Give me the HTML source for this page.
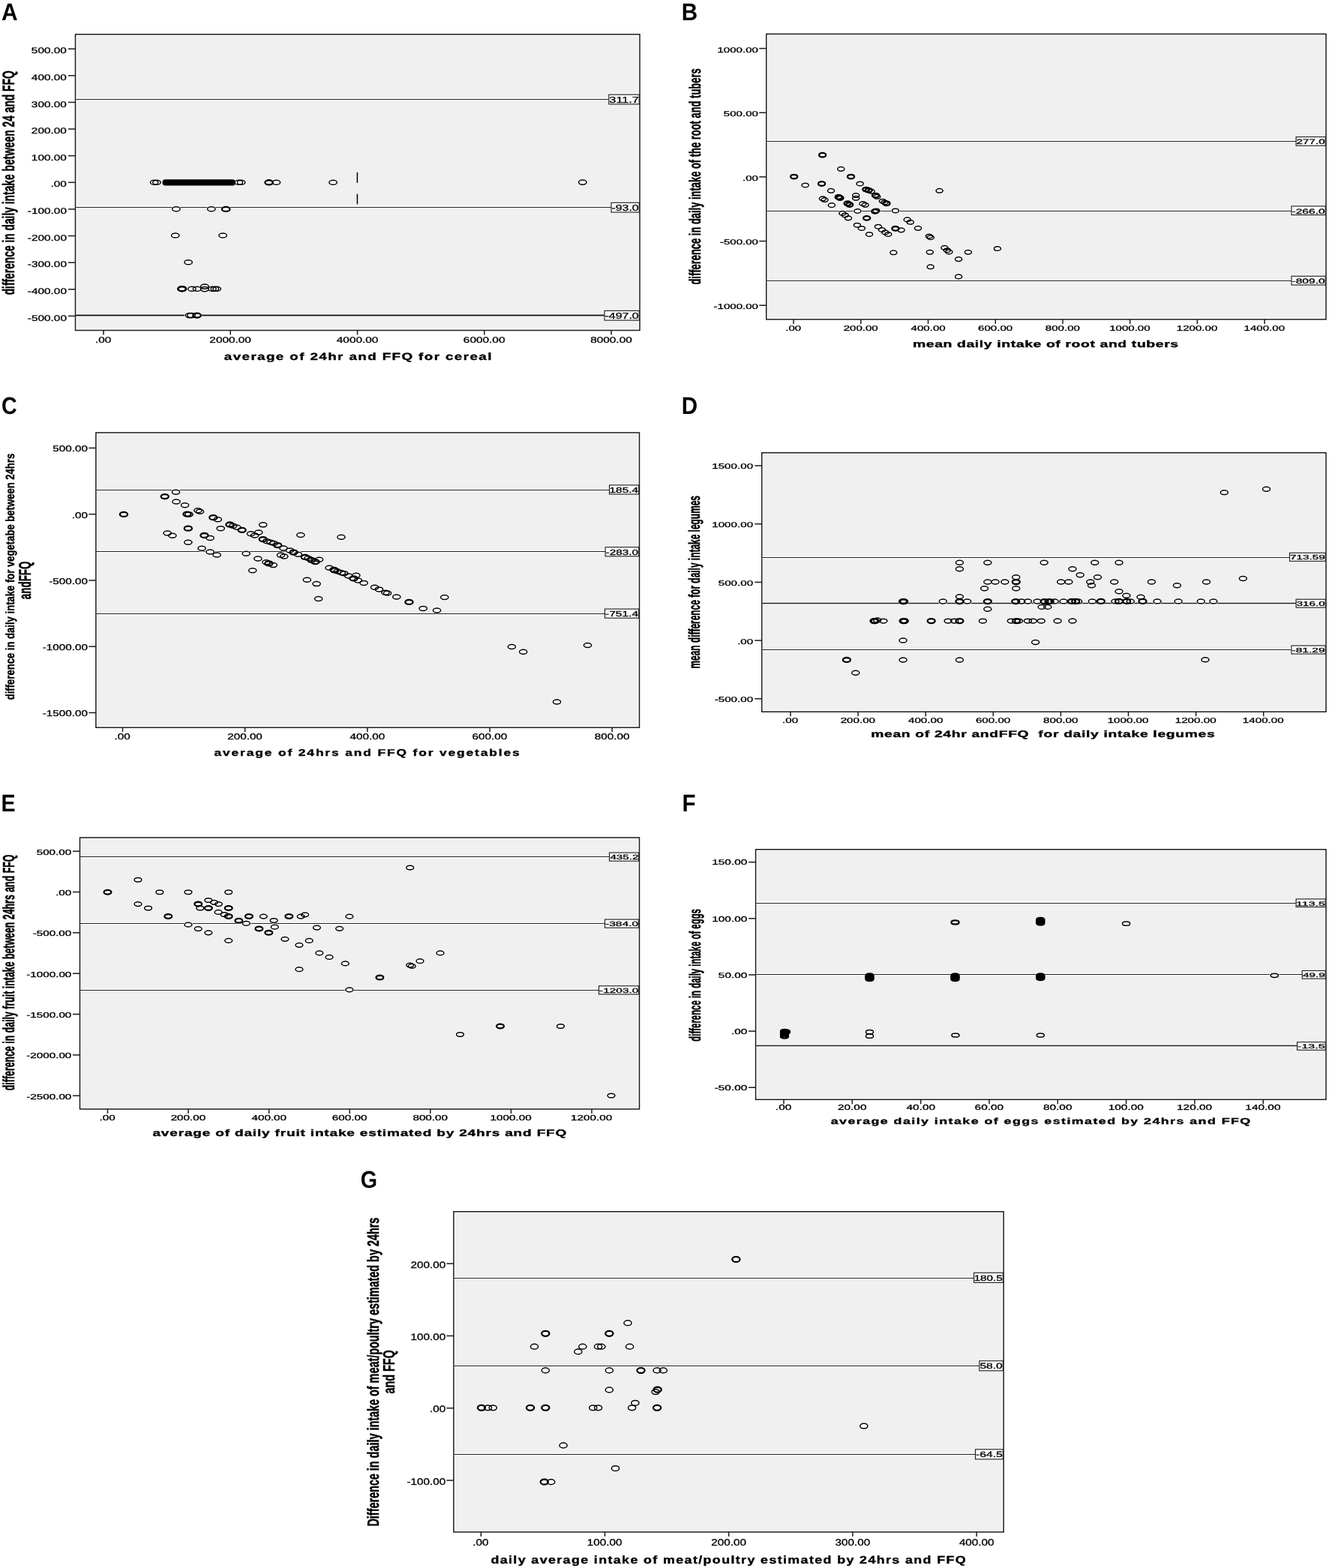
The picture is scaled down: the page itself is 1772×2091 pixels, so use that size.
<!DOCTYPE html>
<html><head><meta charset="utf-8"><style>
html,body{margin:0;padding:0;background:#fff;}
svg{display:block;}
</style></head><body>
<svg width="1772" height="2091" viewBox="0 0 1772 2091" text-rendering="geometricPrecision">
<rect width="1772" height="2091" fill="#fff"/>
<rect x="100.5" y="45.8" width="752.5" height="394.7" fill="#ffffff" stroke="none" stroke-width="0"/>
<rect x="102.6" y="47.9" width="748.3" height="390.5" fill="#f0f0f0" stroke="none" stroke-width="0"/>
<rect x="100.5" y="45.8" width="752.5" height="394.7" fill="none" stroke="#1a1a1a" stroke-width="1.5"/>
<line x1="91" y1="65.2" x2="100.5" y2="65.2" stroke="#1a1a1a" stroke-width="1.5"/>
<text transform="translate(41.85 71.3) scale(1.39 1)" font-family='"Liberation Sans", Arial, sans-serif' font-weight="normal" font-size="11.07" stroke="#000" stroke-width="0.3">500.00</text>
<line x1="91" y1="100.82" x2="100.5" y2="100.82" stroke="#1a1a1a" stroke-width="1.5"/>
<text transform="translate(41.85 106.92) scale(1.39 1)" font-family='"Liberation Sans", Arial, sans-serif' font-weight="normal" font-size="11.07" stroke="#000" stroke-width="0.3">400.00</text>
<line x1="91" y1="136.44" x2="100.5" y2="136.44" stroke="#1a1a1a" stroke-width="1.5"/>
<text transform="translate(41.85 142.54) scale(1.39 1)" font-family='"Liberation Sans", Arial, sans-serif' font-weight="normal" font-size="11.07" stroke="#000" stroke-width="0.3">300.00</text>
<line x1="91" y1="172.06" x2="100.5" y2="172.06" stroke="#1a1a1a" stroke-width="1.5"/>
<text transform="translate(41.85 178.16) scale(1.39 1)" font-family='"Liberation Sans", Arial, sans-serif' font-weight="normal" font-size="11.07" stroke="#000" stroke-width="0.3">200.00</text>
<line x1="91" y1="207.68" x2="100.5" y2="207.68" stroke="#1a1a1a" stroke-width="1.5"/>
<text transform="translate(41.85 213.78) scale(1.39 1)" font-family='"Liberation Sans", Arial, sans-serif' font-weight="normal" font-size="11.07" stroke="#000" stroke-width="0.3">100.00</text>
<line x1="91" y1="243.3" x2="100.5" y2="243.3" stroke="#1a1a1a" stroke-width="1.5"/>
<text transform="translate(67.55 249.4) scale(1.39 1)" font-family='"Liberation Sans", Arial, sans-serif' font-weight="normal" font-size="11.07" stroke="#000" stroke-width="0.3">.00</text>
<line x1="91" y1="278.92" x2="100.5" y2="278.92" stroke="#1a1a1a" stroke-width="1.5"/>
<text transform="translate(36.78 285.02) scale(1.39 1)" font-family='"Liberation Sans", Arial, sans-serif' font-weight="normal" font-size="11.07" stroke="#000" stroke-width="0.3">-100.00</text>
<line x1="91" y1="314.54" x2="100.5" y2="314.54" stroke="#1a1a1a" stroke-width="1.5"/>
<text transform="translate(36.78 320.64) scale(1.39 1)" font-family='"Liberation Sans", Arial, sans-serif' font-weight="normal" font-size="11.07" stroke="#000" stroke-width="0.3">-200.00</text>
<line x1="91" y1="350.16" x2="100.5" y2="350.16" stroke="#1a1a1a" stroke-width="1.5"/>
<text transform="translate(36.78 356.26) scale(1.39 1)" font-family='"Liberation Sans", Arial, sans-serif' font-weight="normal" font-size="11.07" stroke="#000" stroke-width="0.3">-300.00</text>
<line x1="91" y1="385.78" x2="100.5" y2="385.78" stroke="#1a1a1a" stroke-width="1.5"/>
<text transform="translate(36.78 391.88) scale(1.39 1)" font-family='"Liberation Sans", Arial, sans-serif' font-weight="normal" font-size="11.07" stroke="#000" stroke-width="0.3">-400.00</text>
<line x1="91" y1="421.4" x2="100.5" y2="421.4" stroke="#1a1a1a" stroke-width="1.5"/>
<text transform="translate(36.78 427.5) scale(1.39 1)" font-family='"Liberation Sans", Arial, sans-serif' font-weight="normal" font-size="11.07" stroke="#000" stroke-width="0.3">-500.00</text>
<line x1="138" y1="440.5" x2="138" y2="446.5" stroke="#1a1a1a" stroke-width="1.5"/>
<text transform="translate(126.88 457.3) scale(1.39 1)" font-family='"Liberation Sans", Arial, sans-serif' font-weight="normal" font-size="11.07" stroke="#000" stroke-width="0.3">.00</text>
<line x1="307.26" y1="440.5" x2="307.26" y2="446.5" stroke="#1a1a1a" stroke-width="1.5"/>
<text transform="translate(279.33 457.3) scale(1.39 1)" font-family='"Liberation Sans", Arial, sans-serif' font-weight="normal" font-size="11.07" stroke="#000" stroke-width="0.3">2000.00</text>
<line x1="476.52" y1="440.5" x2="476.52" y2="446.5" stroke="#1a1a1a" stroke-width="1.5"/>
<text transform="translate(448.82 457.3) scale(1.39 1)" font-family='"Liberation Sans", Arial, sans-serif' font-weight="normal" font-size="11.07" stroke="#000" stroke-width="0.3">4000.00</text>
<line x1="645.78" y1="440.5" x2="645.78" y2="446.5" stroke="#1a1a1a" stroke-width="1.5"/>
<text transform="translate(617.85 457.3) scale(1.39 1)" font-family='"Liberation Sans", Arial, sans-serif' font-weight="normal" font-size="11.07" stroke="#000" stroke-width="0.3">6000.00</text>
<line x1="815.04" y1="440.5" x2="815.04" y2="446.5" stroke="#1a1a1a" stroke-width="1.5"/>
<text transform="translate(787.15 457.3) scale(1.39 1)" font-family='"Liberation Sans", Arial, sans-serif' font-weight="normal" font-size="11.07" stroke="#000" stroke-width="0.3">8000.00</text>
<line x1="101.3" y1="132.5" x2="852.2" y2="132.5" stroke="#ffffff" stroke-width="3.4"/>
<line x1="100.5" y1="132.5" x2="853" y2="132.5" stroke="#1e1e1e" stroke-width="1.2"/>
<line x1="101.3" y1="276.5" x2="852.2" y2="276.5" stroke="#ffffff" stroke-width="3.4"/>
<line x1="100.5" y1="276.5" x2="853" y2="276.5" stroke="#1e1e1e" stroke-width="1.2"/>
<line x1="101.3" y1="420.4" x2="852.2" y2="420.4" stroke="#ffffff" stroke-width="4.2"/>
<line x1="100.5" y1="420.4" x2="853" y2="420.4" stroke="#1e1e1e" stroke-width="2"/>
<g fill="#fff" stroke="none">
<ellipse cx="205.7" cy="243.3" rx="6.65" ry="4.45"/>
<ellipse cx="209" cy="243.3" rx="6.65" ry="4.45"/>
<ellipse cx="318.3" cy="243.3" rx="6.65" ry="4.45"/>
<ellipse cx="321.6" cy="243.3" rx="6.65" ry="4.45"/>
<ellipse cx="358.6" cy="243.3" rx="6.65" ry="4.45"/>
<ellipse cx="368.4" cy="243.3" rx="6.65" ry="4.45"/>
<ellipse cx="444.1" cy="243.3" rx="6.65" ry="4.45"/>
<ellipse cx="776.8" cy="243.1" rx="6.65" ry="4.45"/>
<ellipse cx="234.9" cy="278.8" rx="6.65" ry="4.45"/>
<ellipse cx="281.8" cy="278.8" rx="6.65" ry="4.45"/>
<ellipse cx="301.2" cy="278.9" rx="6.65" ry="4.45"/>
<ellipse cx="233.8" cy="314" rx="6.65" ry="4.45"/>
<ellipse cx="297.1" cy="314" rx="6.65" ry="4.45"/>
<ellipse cx="251.1" cy="349.7" rx="6.65" ry="4.45"/>
<ellipse cx="242.4" cy="385.2" rx="6.65" ry="4.45"/>
<ellipse cx="243" cy="385.2" rx="6.65" ry="4.45"/>
<ellipse cx="255.9" cy="385.2" rx="6.65" ry="4.45"/>
<ellipse cx="262.6" cy="385.2" rx="6.65" ry="4.45"/>
<ellipse cx="272.9" cy="382.1" rx="6.65" ry="4.45"/>
<ellipse cx="272.9" cy="385.6" rx="6.65" ry="4.45"/>
<ellipse cx="282.9" cy="385.2" rx="6.65" ry="4.45"/>
<ellipse cx="286.4" cy="385.2" rx="6.65" ry="4.45"/>
<ellipse cx="289.2" cy="385.2" rx="6.65" ry="4.45"/>
<ellipse cx="252.7" cy="420.6" rx="6.65" ry="4.45"/>
<ellipse cx="255.1" cy="420.6" rx="6.65" ry="4.45"/>
<ellipse cx="262.6" cy="420.6" rx="6.65" ry="4.45"/>
</g>
<ellipse cx="205.7" cy="243.3" rx="5.25" ry="3.05" fill="none" stroke="#000" stroke-width="1.5"/>
<ellipse cx="209" cy="243.3" rx="5.25" ry="3.05" fill="none" stroke="#000" stroke-width="1.5"/>
<ellipse cx="318.3" cy="243.3" rx="5.25" ry="3.05" fill="none" stroke="#000" stroke-width="1.5"/>
<ellipse cx="321.6" cy="243.3" rx="5.25" ry="3.05" fill="none" stroke="#000" stroke-width="1.5"/>
<ellipse cx="358.6" cy="243.3" rx="5.25" ry="3.05" fill="none" stroke="#000" stroke-width="2.3"/>
<ellipse cx="368.4" cy="243.3" rx="5.25" ry="3.05" fill="none" stroke="#000" stroke-width="1.5"/>
<ellipse cx="444.1" cy="243.3" rx="5.25" ry="3.05" fill="none" stroke="#000" stroke-width="1.5"/>
<ellipse cx="776.8" cy="243.1" rx="5.25" ry="3.05" fill="none" stroke="#000" stroke-width="1.5"/>
<ellipse cx="234.9" cy="278.8" rx="5.25" ry="3.05" fill="none" stroke="#000" stroke-width="1.5"/>
<ellipse cx="281.8" cy="278.8" rx="5.25" ry="3.05" fill="none" stroke="#000" stroke-width="1.5"/>
<ellipse cx="301.2" cy="278.9" rx="5.25" ry="3.05" fill="none" stroke="#000" stroke-width="2.3"/>
<ellipse cx="233.8" cy="314" rx="5.25" ry="3.05" fill="none" stroke="#000" stroke-width="1.5"/>
<ellipse cx="297.1" cy="314" rx="5.25" ry="3.05" fill="none" stroke="#000" stroke-width="1.5"/>
<ellipse cx="251.1" cy="349.7" rx="5.25" ry="3.05" fill="none" stroke="#000" stroke-width="1.5"/>
<ellipse cx="242.4" cy="385.2" rx="5.25" ry="3.05" fill="none" stroke="#000" stroke-width="2.3"/>
<ellipse cx="243" cy="385.2" rx="5.25" ry="3.05" fill="none" stroke="#000" stroke-width="2.3"/>
<ellipse cx="255.9" cy="385.2" rx="5.25" ry="3.05" fill="none" stroke="#000" stroke-width="1.5"/>
<ellipse cx="262.6" cy="385.2" rx="5.25" ry="3.05" fill="none" stroke="#000" stroke-width="1.5"/>
<ellipse cx="272.9" cy="382.1" rx="5.25" ry="3.05" fill="none" stroke="#000" stroke-width="1.5"/>
<ellipse cx="272.9" cy="385.6" rx="5.25" ry="3.05" fill="none" stroke="#000" stroke-width="1.5"/>
<ellipse cx="282.9" cy="385.2" rx="5.25" ry="3.05" fill="none" stroke="#000" stroke-width="1.5"/>
<ellipse cx="286.4" cy="385.2" rx="5.25" ry="3.05" fill="none" stroke="#000" stroke-width="1.5"/>
<ellipse cx="289.2" cy="385.2" rx="5.25" ry="3.05" fill="none" stroke="#000" stroke-width="1.5"/>
<ellipse cx="252.7" cy="420.6" rx="5.25" ry="3.05" fill="none" stroke="#000" stroke-width="1.5"/>
<ellipse cx="255.1" cy="420.6" rx="5.25" ry="3.05" fill="none" stroke="#000" stroke-width="1.5"/>
<ellipse cx="262.6" cy="420.6" rx="5.25" ry="3.05" fill="none" stroke="#000" stroke-width="2.3"/>
<rect x="216.5" y="239.2" width="97.5" height="8.2" rx="4" ry="4" fill="#000"/>
<line x1="476.4" y1="229.9" x2="476.4" y2="243.8" stroke="#000" stroke-width="1.5"/>
<line x1="476.4" y1="258.6" x2="476.4" y2="272.3" stroke="#000" stroke-width="1.5"/>
<rect x="811.8" y="126.2" width="40.4" height="12.7" fill="#fff" stroke="#1a1a1a" stroke-width="1.1"/>
<text transform="translate(812.35 136.8) scale(1.41 1)" font-family='"Liberation Sans", Arial, sans-serif' font-weight="normal" font-size="11.57" stroke="#000" stroke-width="0.3">311.7</text>
<rect x="815" y="270.3" width="37.2" height="12.7" fill="#fff" stroke="#1a1a1a" stroke-width="1.1"/>
<text transform="translate(815.49 280.9) scale(1.37 1)" font-family='"Liberation Sans", Arial, sans-serif' font-weight="normal" font-size="11.57" stroke="#000" stroke-width="0.3">-93.0</text>
<rect x="806" y="414.4" width="46.2" height="12.7" fill="#fff" stroke="#1a1a1a" stroke-width="1.1"/>
<text transform="translate(806.48 425) scale(1.38 1)" font-family='"Liberation Sans", Arial, sans-serif' font-weight="normal" font-size="11.57" stroke="#000" stroke-width="0.3">-497.0</text>
<text transform="translate(19.3 393.35) scale(1.62 1) rotate(-90)" font-family='"Liberation Sans", Arial, sans-serif' font-weight="bold" font-size="13.81" stroke="#000" stroke-width="0.3">difference in daily intake between 24 and FFQ</text>
<text transform="translate(298.84 479.9) scale(1.39 1)" font-family='"Liberation Sans", Arial, sans-serif' font-weight="bold" font-size="13.5" letter-spacing="1.02" stroke="#000" stroke-width="0.35">average of 24hr and FFQ for cereal</text>
<text transform="translate(1.95 26.6) scale(0.93 1)" font-family='"Liberation Sans", Arial, sans-serif' font-weight="bold" font-size="32.2">A</text>
<rect x="1021.8" y="45.4" width="746.2" height="380.5" fill="#ffffff" stroke="none" stroke-width="0"/>
<rect x="1023.9" y="47.5" width="742" height="376.3" fill="#f0f0f0" stroke="none" stroke-width="0"/>
<rect x="1021.8" y="45.4" width="746.2" height="380.5" fill="none" stroke="#1a1a1a" stroke-width="1.5"/>
<line x1="1012.3" y1="64.6" x2="1021.8" y2="64.6" stroke="#1a1a1a" stroke-width="1.5"/>
<text transform="translate(956.49 69.5) scale(1.53 1)" font-family='"Liberation Sans", Arial, sans-serif' font-weight="normal" font-size="9.86" stroke="#000" stroke-width="0.3">1000.00</text>
<line x1="1012.3" y1="150.25" x2="1021.8" y2="150.25" stroke="#1a1a1a" stroke-width="1.5"/>
<text transform="translate(964.87 155.15) scale(1.53 1)" font-family='"Liberation Sans", Arial, sans-serif' font-weight="normal" font-size="9.86" stroke="#000" stroke-width="0.3">500.00</text>
<line x1="1012.3" y1="235.9" x2="1021.8" y2="235.9" stroke="#1a1a1a" stroke-width="1.5"/>
<text transform="translate(990.06 240.8) scale(1.53 1)" font-family='"Liberation Sans", Arial, sans-serif' font-weight="normal" font-size="9.86" stroke="#000" stroke-width="0.3">.00</text>
<line x1="1012.3" y1="321.55" x2="1021.8" y2="321.55" stroke="#1a1a1a" stroke-width="1.5"/>
<text transform="translate(959.89 326.45) scale(1.53 1)" font-family='"Liberation Sans", Arial, sans-serif' font-weight="normal" font-size="9.86" stroke="#000" stroke-width="0.3">-500.00</text>
<line x1="1012.3" y1="407.2" x2="1021.8" y2="407.2" stroke="#1a1a1a" stroke-width="1.5"/>
<text transform="translate(951.51 412.1) scale(1.53 1)" font-family='"Liberation Sans", Arial, sans-serif' font-weight="normal" font-size="9.86" stroke="#000" stroke-width="0.3">-1000.00</text>
<line x1="1058.1" y1="425.9" x2="1058.1" y2="431.9" stroke="#1a1a1a" stroke-width="1.5"/>
<text transform="translate(1047.2 441.1) scale(1.53 1)" font-family='"Liberation Sans", Arial, sans-serif' font-weight="normal" font-size="9.86" stroke="#000" stroke-width="0.3">.00</text>
<line x1="1147.82" y1="425.9" x2="1147.82" y2="431.9" stroke="#1a1a1a" stroke-width="1.5"/>
<text transform="translate(1124.63 441.1) scale(1.53 1)" font-family='"Liberation Sans", Arial, sans-serif' font-weight="normal" font-size="9.86" stroke="#000" stroke-width="0.3">200.00</text>
<line x1="1237.54" y1="425.9" x2="1237.54" y2="431.9" stroke="#1a1a1a" stroke-width="1.5"/>
<text transform="translate(1214.57 441.1) scale(1.53 1)" font-family='"Liberation Sans", Arial, sans-serif' font-weight="normal" font-size="9.86" stroke="#000" stroke-width="0.3">400.00</text>
<line x1="1327.26" y1="425.9" x2="1327.26" y2="431.9" stroke="#1a1a1a" stroke-width="1.5"/>
<text transform="translate(1304.07 441.1) scale(1.53 1)" font-family='"Liberation Sans", Arial, sans-serif' font-weight="normal" font-size="9.86" stroke="#000" stroke-width="0.3">600.00</text>
<line x1="1416.98" y1="425.9" x2="1416.98" y2="431.9" stroke="#1a1a1a" stroke-width="1.5"/>
<text transform="translate(1393.82 441.1) scale(1.53 1)" font-family='"Liberation Sans", Arial, sans-serif' font-weight="normal" font-size="9.86" stroke="#000" stroke-width="0.3">800.00</text>
<line x1="1506.7" y1="425.9" x2="1506.7" y2="431.9" stroke="#1a1a1a" stroke-width="1.5"/>
<text transform="translate(1479.13 441.1) scale(1.53 1)" font-family='"Liberation Sans", Arial, sans-serif' font-weight="normal" font-size="9.86" stroke="#000" stroke-width="0.3">1000.00</text>
<line x1="1596.42" y1="425.9" x2="1596.42" y2="431.9" stroke="#1a1a1a" stroke-width="1.5"/>
<text transform="translate(1568.85 441.1) scale(1.53 1)" font-family='"Liberation Sans", Arial, sans-serif' font-weight="normal" font-size="9.86" stroke="#000" stroke-width="0.3">1200.00</text>
<line x1="1686.14" y1="425.9" x2="1686.14" y2="431.9" stroke="#1a1a1a" stroke-width="1.5"/>
<text transform="translate(1658.57 441.1) scale(1.53 1)" font-family='"Liberation Sans", Arial, sans-serif' font-weight="normal" font-size="9.86" stroke="#000" stroke-width="0.3">1400.00</text>
<line x1="1022.6" y1="188.5" x2="1767.2" y2="188.5" stroke="#ffffff" stroke-width="3.4"/>
<line x1="1021.8" y1="188.5" x2="1768" y2="188.5" stroke="#1e1e1e" stroke-width="1.2"/>
<line x1="1022.6" y1="281.5" x2="1767.2" y2="281.5" stroke="#ffffff" stroke-width="3.4"/>
<line x1="1021.8" y1="281.5" x2="1768" y2="281.5" stroke="#1e1e1e" stroke-width="1.2"/>
<line x1="1022.6" y1="374.5" x2="1767.2" y2="374.5" stroke="#ffffff" stroke-width="3.4"/>
<line x1="1021.8" y1="374.5" x2="1768" y2="374.5" stroke="#1e1e1e" stroke-width="1.2"/>
<g fill="#fff" stroke="none">
<ellipse cx="1096.63" cy="206.67" rx="5.95" ry="4.2"/>
<ellipse cx="1121.29" cy="225.37" rx="5.95" ry="4.2"/>
<ellipse cx="1058.71" cy="235.58" rx="5.95" ry="4.2"/>
<ellipse cx="1134.56" cy="235.58" rx="5.95" ry="4.2"/>
<ellipse cx="1073.67" cy="246.97" rx="5.95" ry="4.2"/>
<ellipse cx="1095.61" cy="244.93" rx="5.95" ry="4.2"/>
<ellipse cx="1146.63" cy="244.93" rx="5.95" ry="4.2"/>
<ellipse cx="1108.03" cy="254.29" rx="5.95" ry="4.2"/>
<ellipse cx="1154.8" cy="252.59" rx="5.95" ry="4.2"/>
<ellipse cx="1158.2" cy="253.78" rx="5.95" ry="4.2"/>
<ellipse cx="1161.6" cy="255.14" rx="5.95" ry="4.2"/>
<ellipse cx="1252.59" cy="254.29" rx="5.95" ry="4.2"/>
<ellipse cx="1141.19" cy="260.58" rx="5.95" ry="4.2"/>
<ellipse cx="1141.19" cy="264.32" rx="5.95" ry="4.2"/>
<ellipse cx="1118.23" cy="262.79" rx="5.95" ry="4.2"/>
<ellipse cx="1119.93" cy="263.98" rx="5.95" ry="4.2"/>
<ellipse cx="1167.55" cy="260.58" rx="5.95" ry="4.2"/>
<ellipse cx="1169.25" cy="262.28" rx="5.95" ry="4.2"/>
<ellipse cx="1096.97" cy="264.83" rx="5.95" ry="4.2"/>
<ellipse cx="1099.52" cy="266.53" rx="5.95" ry="4.2"/>
<ellipse cx="1130.14" cy="271.29" rx="5.95" ry="4.2"/>
<ellipse cx="1132.69" cy="272.99" rx="5.95" ry="4.2"/>
<ellipse cx="1150.54" cy="271.63" rx="5.95" ry="4.2"/>
<ellipse cx="1153.61" cy="273.33" rx="5.95" ry="4.2"/>
<ellipse cx="1176.9" cy="268.23" rx="5.95" ry="4.2"/>
<ellipse cx="1179.46" cy="269.93" rx="5.95" ry="4.2"/>
<ellipse cx="1182.01" cy="271.29" rx="5.95" ry="4.2"/>
<ellipse cx="1108.88" cy="273.67" rx="5.95" ry="4.2"/>
<ellipse cx="1143.4" cy="281.5" rx="5.95" ry="4.2"/>
<ellipse cx="1166.7" cy="281.84" rx="5.95" ry="4.2"/>
<ellipse cx="1168.4" cy="280.99" rx="5.95" ry="4.2"/>
<ellipse cx="1193.91" cy="280.99" rx="5.95" ry="4.2"/>
<ellipse cx="1123.33" cy="284.39" rx="5.95" ry="4.2"/>
<ellipse cx="1126.73" cy="286.94" rx="5.95" ry="4.2"/>
<ellipse cx="1130.99" cy="290.85" rx="5.95" ry="4.2"/>
<ellipse cx="1155.65" cy="290.85" rx="5.95" ry="4.2"/>
<ellipse cx="1209.73" cy="292.89" rx="5.95" ry="4.2"/>
<ellipse cx="1213.81" cy="296.29" rx="5.95" ry="4.2"/>
<ellipse cx="1142.89" cy="300.2" rx="5.95" ry="4.2"/>
<ellipse cx="1148.84" cy="304.46" rx="5.95" ry="4.2"/>
<ellipse cx="1159.05" cy="312.45" rx="5.95" ry="4.2"/>
<ellipse cx="1170.95" cy="302.24" rx="5.95" ry="4.2"/>
<ellipse cx="1176.05" cy="306.5" rx="5.95" ry="4.2"/>
<ellipse cx="1180.31" cy="309.9" rx="5.95" ry="4.2"/>
<ellipse cx="1184.22" cy="312.45" rx="5.95" ry="4.2"/>
<ellipse cx="1193.91" cy="304.8" rx="5.95" ry="4.2"/>
<ellipse cx="1201.56" cy="306.84" rx="5.95" ry="4.2"/>
<ellipse cx="1224.01" cy="304.29" rx="5.95" ry="4.2"/>
<ellipse cx="1238.98" cy="315" rx="5.95" ry="4.2"/>
<ellipse cx="1240.68" cy="316.7" rx="5.95" ry="4.2"/>
<ellipse cx="1259.39" cy="330.31" rx="5.95" ry="4.2"/>
<ellipse cx="1262.79" cy="333.71" rx="5.95" ry="4.2"/>
<ellipse cx="1265.34" cy="335.92" rx="5.95" ry="4.2"/>
<ellipse cx="1191.36" cy="336.77" rx="5.95" ry="4.2"/>
<ellipse cx="1239.83" cy="336.26" rx="5.95" ry="4.2"/>
<ellipse cx="1290.85" cy="336.26" rx="5.95" ry="4.2"/>
<ellipse cx="1329.97" cy="331.5" rx="5.95" ry="4.2"/>
<ellipse cx="1278.1" cy="345.61" rx="5.95" ry="4.2"/>
<ellipse cx="1240.68" cy="355.82" rx="5.95" ry="4.2"/>
<ellipse cx="1278.1" cy="368.91" rx="5.95" ry="4.2"/>
</g>
<ellipse cx="1096.63" cy="206.67" rx="4.55" ry="2.8" fill="none" stroke="#000" stroke-width="2.3"/>
<ellipse cx="1121.29" cy="225.37" rx="4.55" ry="2.8" fill="none" stroke="#000" stroke-width="1.5"/>
<ellipse cx="1058.71" cy="235.58" rx="4.55" ry="2.8" fill="none" stroke="#000" stroke-width="2.3"/>
<ellipse cx="1134.56" cy="235.58" rx="4.55" ry="2.8" fill="none" stroke="#000" stroke-width="2.3"/>
<ellipse cx="1073.67" cy="246.97" rx="4.55" ry="2.8" fill="none" stroke="#000" stroke-width="1.5"/>
<ellipse cx="1095.61" cy="244.93" rx="4.55" ry="2.8" fill="none" stroke="#000" stroke-width="2.3"/>
<ellipse cx="1146.63" cy="244.93" rx="4.55" ry="2.8" fill="none" stroke="#000" stroke-width="1.5"/>
<ellipse cx="1108.03" cy="254.29" rx="4.55" ry="2.8" fill="none" stroke="#000" stroke-width="1.5"/>
<ellipse cx="1154.8" cy="252.59" rx="4.55" ry="2.8" fill="none" stroke="#000" stroke-width="2.3"/>
<ellipse cx="1158.2" cy="253.78" rx="4.55" ry="2.8" fill="none" stroke="#000" stroke-width="2.3"/>
<ellipse cx="1161.6" cy="255.14" rx="4.55" ry="2.8" fill="none" stroke="#000" stroke-width="1.5"/>
<ellipse cx="1252.59" cy="254.29" rx="4.55" ry="2.8" fill="none" stroke="#000" stroke-width="1.5"/>
<ellipse cx="1141.19" cy="260.58" rx="4.55" ry="2.8" fill="none" stroke="#000" stroke-width="1.5"/>
<ellipse cx="1141.19" cy="264.32" rx="4.55" ry="2.8" fill="none" stroke="#000" stroke-width="1.5"/>
<ellipse cx="1118.23" cy="262.79" rx="4.55" ry="2.8" fill="none" stroke="#000" stroke-width="2.3"/>
<ellipse cx="1119.93" cy="263.98" rx="4.55" ry="2.8" fill="none" stroke="#000" stroke-width="2.3"/>
<ellipse cx="1167.55" cy="260.58" rx="4.55" ry="2.8" fill="none" stroke="#000" stroke-width="2.3"/>
<ellipse cx="1169.25" cy="262.28" rx="4.55" ry="2.8" fill="none" stroke="#000" stroke-width="1.5"/>
<ellipse cx="1096.97" cy="264.83" rx="4.55" ry="2.8" fill="none" stroke="#000" stroke-width="1.5"/>
<ellipse cx="1099.52" cy="266.53" rx="4.55" ry="2.8" fill="none" stroke="#000" stroke-width="1.5"/>
<ellipse cx="1130.14" cy="271.29" rx="4.55" ry="2.8" fill="none" stroke="#000" stroke-width="2.3"/>
<ellipse cx="1132.69" cy="272.99" rx="4.55" ry="2.8" fill="none" stroke="#000" stroke-width="2.3"/>
<ellipse cx="1150.54" cy="271.63" rx="4.55" ry="2.8" fill="none" stroke="#000" stroke-width="1.5"/>
<ellipse cx="1153.61" cy="273.33" rx="4.55" ry="2.8" fill="none" stroke="#000" stroke-width="1.5"/>
<ellipse cx="1176.9" cy="268.23" rx="4.55" ry="2.8" fill="none" stroke="#000" stroke-width="1.5"/>
<ellipse cx="1179.46" cy="269.93" rx="4.55" ry="2.8" fill="none" stroke="#000" stroke-width="1.5"/>
<ellipse cx="1182.01" cy="271.29" rx="4.55" ry="2.8" fill="none" stroke="#000" stroke-width="2.3"/>
<ellipse cx="1108.88" cy="273.67" rx="4.55" ry="2.8" fill="none" stroke="#000" stroke-width="1.5"/>
<ellipse cx="1143.4" cy="281.5" rx="4.55" ry="2.8" fill="none" stroke="#000" stroke-width="1.5"/>
<ellipse cx="1166.7" cy="281.84" rx="4.55" ry="2.8" fill="none" stroke="#000" stroke-width="2.3"/>
<ellipse cx="1168.4" cy="280.99" rx="4.55" ry="2.8" fill="none" stroke="#000" stroke-width="1.5"/>
<ellipse cx="1193.91" cy="280.99" rx="4.55" ry="2.8" fill="none" stroke="#000" stroke-width="1.5"/>
<ellipse cx="1123.33" cy="284.39" rx="4.55" ry="2.8" fill="none" stroke="#000" stroke-width="1.5"/>
<ellipse cx="1126.73" cy="286.94" rx="4.55" ry="2.8" fill="none" stroke="#000" stroke-width="1.5"/>
<ellipse cx="1130.99" cy="290.85" rx="4.55" ry="2.8" fill="none" stroke="#000" stroke-width="1.5"/>
<ellipse cx="1155.65" cy="290.85" rx="4.55" ry="2.8" fill="none" stroke="#000" stroke-width="2.3"/>
<ellipse cx="1209.73" cy="292.89" rx="4.55" ry="2.8" fill="none" stroke="#000" stroke-width="1.5"/>
<ellipse cx="1213.81" cy="296.29" rx="4.55" ry="2.8" fill="none" stroke="#000" stroke-width="1.5"/>
<ellipse cx="1142.89" cy="300.2" rx="4.55" ry="2.8" fill="none" stroke="#000" stroke-width="1.5"/>
<ellipse cx="1148.84" cy="304.46" rx="4.55" ry="2.8" fill="none" stroke="#000" stroke-width="1.5"/>
<ellipse cx="1159.05" cy="312.45" rx="4.55" ry="2.8" fill="none" stroke="#000" stroke-width="1.5"/>
<ellipse cx="1170.95" cy="302.24" rx="4.55" ry="2.8" fill="none" stroke="#000" stroke-width="1.5"/>
<ellipse cx="1176.05" cy="306.5" rx="4.55" ry="2.8" fill="none" stroke="#000" stroke-width="1.5"/>
<ellipse cx="1180.31" cy="309.9" rx="4.55" ry="2.8" fill="none" stroke="#000" stroke-width="1.5"/>
<ellipse cx="1184.22" cy="312.45" rx="4.55" ry="2.8" fill="none" stroke="#000" stroke-width="1.5"/>
<ellipse cx="1193.91" cy="304.8" rx="4.55" ry="2.8" fill="none" stroke="#000" stroke-width="2.3"/>
<ellipse cx="1201.56" cy="306.84" rx="4.55" ry="2.8" fill="none" stroke="#000" stroke-width="1.5"/>
<ellipse cx="1224.01" cy="304.29" rx="4.55" ry="2.8" fill="none" stroke="#000" stroke-width="1.5"/>
<ellipse cx="1238.98" cy="315" rx="4.55" ry="2.8" fill="none" stroke="#000" stroke-width="1.5"/>
<ellipse cx="1240.68" cy="316.7" rx="4.55" ry="2.8" fill="none" stroke="#000" stroke-width="1.5"/>
<ellipse cx="1259.39" cy="330.31" rx="4.55" ry="2.8" fill="none" stroke="#000" stroke-width="1.5"/>
<ellipse cx="1262.79" cy="333.71" rx="4.55" ry="2.8" fill="none" stroke="#000" stroke-width="1.5"/>
<ellipse cx="1265.34" cy="335.92" rx="4.55" ry="2.8" fill="none" stroke="#000" stroke-width="1.5"/>
<ellipse cx="1191.36" cy="336.77" rx="4.55" ry="2.8" fill="none" stroke="#000" stroke-width="1.5"/>
<ellipse cx="1239.83" cy="336.26" rx="4.55" ry="2.8" fill="none" stroke="#000" stroke-width="1.5"/>
<ellipse cx="1290.85" cy="336.26" rx="4.55" ry="2.8" fill="none" stroke="#000" stroke-width="1.5"/>
<ellipse cx="1329.97" cy="331.5" rx="4.55" ry="2.8" fill="none" stroke="#000" stroke-width="1.5"/>
<ellipse cx="1278.1" cy="345.61" rx="4.55" ry="2.8" fill="none" stroke="#000" stroke-width="1.5"/>
<ellipse cx="1240.68" cy="355.82" rx="4.55" ry="2.8" fill="none" stroke="#000" stroke-width="1.5"/>
<ellipse cx="1278.1" cy="368.91" rx="4.55" ry="2.8" fill="none" stroke="#000" stroke-width="1.5"/>
<rect x="1728.1" y="182.6" width="39.1" height="11.7" fill="#fff" stroke="#1a1a1a" stroke-width="1.1"/>
<text transform="translate(1728.54 192.2) scale(1.64 1)" font-family='"Liberation Sans", Arial, sans-serif' font-weight="normal" font-size="9.29" stroke="#000" stroke-width="0.3">277.0</text>
<rect x="1722" y="274.9" width="45.2" height="11.7" fill="#fff" stroke="#1a1a1a" stroke-width="1.1"/>
<text transform="translate(1722.5 284.5) scale(1.68 1)" font-family='"Liberation Sans", Arial, sans-serif' font-weight="normal" font-size="9.29" stroke="#000" stroke-width="0.3">-266.0</text>
<rect x="1722" y="368.3" width="45.2" height="11.7" fill="#fff" stroke="#1a1a1a" stroke-width="1.1"/>
<text transform="translate(1722.5 377.9) scale(1.68 1)" font-family='"Liberation Sans", Arial, sans-serif' font-weight="normal" font-size="9.29" stroke="#000" stroke-width="0.3">-809.0</text>
<text transform="translate(933.7 379.62) scale(1.67 1) rotate(-90)" font-family='"Liberation Sans", Arial, sans-serif' font-weight="bold" font-size="12.94" stroke="#000" stroke-width="0.3">difference in daily intake of the root and tubers</text>
<text transform="translate(1216.94 462.8) scale(1.53 1)" font-family='"Liberation Sans", Arial, sans-serif' font-weight="bold" font-size="12.7" letter-spacing="0.39" stroke="#000" stroke-width="0.35">mean daily intake of root and tubers</text>
<text transform="translate(908.77 26.6) scale(0.92 1)" font-family='"Liberation Sans", Arial, sans-serif' font-weight="bold" font-size="32.2">B</text>
<rect x="127.9" y="577" width="724.6" height="393.2" fill="#ffffff" stroke="none" stroke-width="0"/>
<rect x="130" y="579.1" width="720.4" height="389" fill="#f0f0f0" stroke="none" stroke-width="0"/>
<rect x="127.9" y="577" width="724.6" height="393.2" fill="none" stroke="#1a1a1a" stroke-width="1.5"/>
<line x1="118.4" y1="597.45" x2="127.9" y2="597.45" stroke="#1a1a1a" stroke-width="1.5"/>
<text transform="translate(70.25 602.45) scale(1.35 1)" font-family='"Liberation Sans", Arial, sans-serif' font-weight="normal" font-size="11.3" stroke="#000" stroke-width="0.3">500.00</text>
<line x1="118.4" y1="685.7" x2="127.9" y2="685.7" stroke="#1a1a1a" stroke-width="1.5"/>
<text transform="translate(95.73 690.7) scale(1.35 1)" font-family='"Liberation Sans", Arial, sans-serif' font-weight="normal" font-size="11.3" stroke="#000" stroke-width="0.3">.00</text>
<line x1="118.4" y1="773.95" x2="127.9" y2="773.95" stroke="#1a1a1a" stroke-width="1.5"/>
<text transform="translate(65.22 778.95) scale(1.35 1)" font-family='"Liberation Sans", Arial, sans-serif' font-weight="normal" font-size="11.3" stroke="#000" stroke-width="0.3">-500.00</text>
<line x1="118.4" y1="862.2" x2="127.9" y2="862.2" stroke="#1a1a1a" stroke-width="1.5"/>
<text transform="translate(56.75 867.2) scale(1.35 1)" font-family='"Liberation Sans", Arial, sans-serif' font-weight="normal" font-size="11.3" stroke="#000" stroke-width="0.3">-1000.00</text>
<line x1="118.4" y1="950.45" x2="127.9" y2="950.45" stroke="#1a1a1a" stroke-width="1.5"/>
<text transform="translate(56.75 955.45) scale(1.35 1)" font-family='"Liberation Sans", Arial, sans-serif' font-weight="normal" font-size="11.3" stroke="#000" stroke-width="0.3">-1500.00</text>
<line x1="163.5" y1="970.2" x2="163.5" y2="976.2" stroke="#1a1a1a" stroke-width="1.5"/>
<text transform="translate(152.48 986.4) scale(1.35 1)" font-family='"Liberation Sans", Arial, sans-serif' font-weight="normal" font-size="11.3" stroke="#000" stroke-width="0.3">.00</text>
<line x1="326.66" y1="970.2" x2="326.66" y2="976.2" stroke="#1a1a1a" stroke-width="1.5"/>
<text transform="translate(303.21 986.4) scale(1.35 1)" font-family='"Liberation Sans", Arial, sans-serif' font-weight="normal" font-size="11.3" stroke="#000" stroke-width="0.3">200.00</text>
<line x1="489.82" y1="970.2" x2="489.82" y2="976.2" stroke="#1a1a1a" stroke-width="1.5"/>
<text transform="translate(466.59 986.4) scale(1.35 1)" font-family='"Liberation Sans", Arial, sans-serif' font-weight="normal" font-size="11.3" stroke="#000" stroke-width="0.3">400.00</text>
<line x1="652.98" y1="970.2" x2="652.98" y2="976.2" stroke="#1a1a1a" stroke-width="1.5"/>
<text transform="translate(629.53 986.4) scale(1.35 1)" font-family='"Liberation Sans", Arial, sans-serif' font-weight="normal" font-size="11.3" stroke="#000" stroke-width="0.3">600.00</text>
<line x1="816.14" y1="970.2" x2="816.14" y2="976.2" stroke="#1a1a1a" stroke-width="1.5"/>
<text transform="translate(792.72 986.4) scale(1.35 1)" font-family='"Liberation Sans", Arial, sans-serif' font-weight="normal" font-size="11.3" stroke="#000" stroke-width="0.3">800.00</text>
<line x1="128.7" y1="653.5" x2="851.7" y2="653.5" stroke="#ffffff" stroke-width="3.4"/>
<line x1="127.9" y1="653.5" x2="852.5" y2="653.5" stroke="#1e1e1e" stroke-width="1.2"/>
<line x1="128.7" y1="735.5" x2="851.7" y2="735.5" stroke="#ffffff" stroke-width="3.4"/>
<line x1="127.9" y1="735.5" x2="852.5" y2="735.5" stroke="#1e1e1e" stroke-width="1.2"/>
<line x1="128.7" y1="818.5" x2="851.7" y2="818.5" stroke="#ffffff" stroke-width="3.4"/>
<line x1="127.9" y1="818.5" x2="852.5" y2="818.5" stroke="#1e1e1e" stroke-width="1.2"/>
<g fill="#fff" stroke="none">
<ellipse cx="164.97" cy="685.92" rx="6.5" ry="4.4"/>
<ellipse cx="219.73" cy="662.11" rx="6.5" ry="4.4"/>
<ellipse cx="234.52" cy="656.16" rx="6.5" ry="4.4"/>
<ellipse cx="235.03" cy="668.91" rx="6.5" ry="4.4"/>
<ellipse cx="246.6" cy="673.67" rx="6.5" ry="4.4"/>
<ellipse cx="249.49" cy="685.58" rx="6.5" ry="4.4"/>
<ellipse cx="252.04" cy="685.92" rx="6.5" ry="4.4"/>
<ellipse cx="263.95" cy="680.82" rx="6.5" ry="4.4"/>
<ellipse cx="266.5" cy="682.18" rx="6.5" ry="4.4"/>
<ellipse cx="284.35" cy="690.17" rx="6.5" ry="4.4"/>
<ellipse cx="290.31" cy="692.72" rx="6.5" ry="4.4"/>
<ellipse cx="250.85" cy="704.63" rx="6.5" ry="4.4"/>
<ellipse cx="294.22" cy="704.63" rx="6.5" ry="4.4"/>
<ellipse cx="223.13" cy="711.09" rx="6.5" ry="4.4"/>
<ellipse cx="229.93" cy="714.32" rx="6.5" ry="4.4"/>
<ellipse cx="272.45" cy="713.98" rx="6.5" ry="4.4"/>
<ellipse cx="280.1" cy="717.38" rx="6.5" ry="4.4"/>
<ellipse cx="306.46" cy="699.52" rx="6.5" ry="4.4"/>
<ellipse cx="310.71" cy="701.22" rx="6.5" ry="4.4"/>
<ellipse cx="315.82" cy="703.27" rx="6.5" ry="4.4"/>
<ellipse cx="322.62" cy="706.84" rx="6.5" ry="4.4"/>
<ellipse cx="350.68" cy="699.86" rx="6.5" ry="4.4"/>
<ellipse cx="334.52" cy="711.77" rx="6.5" ry="4.4"/>
<ellipse cx="339.63" cy="713.98" rx="6.5" ry="4.4"/>
<ellipse cx="344.73" cy="710.07" rx="6.5" ry="4.4"/>
<ellipse cx="400.85" cy="713.47" rx="6.5" ry="4.4"/>
<ellipse cx="350.68" cy="719.08" rx="6.5" ry="4.4"/>
<ellipse cx="355.78" cy="721.63" rx="6.5" ry="4.4"/>
<ellipse cx="360.88" cy="723.33" rx="6.5" ry="4.4"/>
<ellipse cx="365.14" cy="724.52" rx="6.5" ry="4.4"/>
<ellipse cx="370.24" cy="727.07" rx="6.5" ry="4.4"/>
<ellipse cx="377.89" cy="730.99" rx="6.5" ry="4.4"/>
<ellipse cx="386.39" cy="733.88" rx="6.5" ry="4.4"/>
<ellipse cx="391.5" cy="736.6" rx="6.5" ry="4.4"/>
<ellipse cx="397.45" cy="739.15" rx="6.5" ry="4.4"/>
<ellipse cx="406.8" cy="742.89" rx="6.5" ry="4.4"/>
<ellipse cx="411.05" cy="744.59" rx="6.5" ry="4.4"/>
<ellipse cx="415.31" cy="746.8" rx="6.5" ry="4.4"/>
<ellipse cx="420.41" cy="749.18" rx="6.5" ry="4.4"/>
<ellipse cx="425.51" cy="746.29" rx="6.5" ry="4.4"/>
<ellipse cx="250.85" cy="723.33" rx="6.5" ry="4.4"/>
<ellipse cx="269.05" cy="731.33" rx="6.5" ry="4.4"/>
<ellipse cx="280.1" cy="736.09" rx="6.5" ry="4.4"/>
<ellipse cx="289.12" cy="740" rx="6.5" ry="4.4"/>
<ellipse cx="328.23" cy="738.3" rx="6.5" ry="4.4"/>
<ellipse cx="343.88" cy="745.1" rx="6.5" ry="4.4"/>
<ellipse cx="354.93" cy="749.69" rx="6.5" ry="4.4"/>
<ellipse cx="358.33" cy="751.39" rx="6.5" ry="4.4"/>
<ellipse cx="364.29" cy="753.61" rx="6.5" ry="4.4"/>
<ellipse cx="374.49" cy="740.34" rx="6.5" ry="4.4"/>
<ellipse cx="378.74" cy="742.04" rx="6.5" ry="4.4"/>
<ellipse cx="336.73" cy="760.75" rx="6.5" ry="4.4"/>
<ellipse cx="409.35" cy="773.16" rx="6.5" ry="4.4"/>
<ellipse cx="422.11" cy="778.61" rx="6.5" ry="4.4"/>
<ellipse cx="424.66" cy="798.5" rx="6.5" ry="4.4"/>
<ellipse cx="439.12" cy="757.35" rx="6.5" ry="4.4"/>
<ellipse cx="445.92" cy="760.41" rx="6.5" ry="4.4"/>
<ellipse cx="454.97" cy="716.16" rx="6.5" ry="4.4"/>
<ellipse cx="445.1" cy="759.52" rx="6.5" ry="4.4"/>
<ellipse cx="450.2" cy="762.07" rx="6.5" ry="4.4"/>
<ellipse cx="455.31" cy="763.78" rx="6.5" ry="4.4"/>
<ellipse cx="458.71" cy="764.63" rx="6.5" ry="4.4"/>
<ellipse cx="464.66" cy="768.03" rx="6.5" ry="4.4"/>
<ellipse cx="474.86" cy="767.18" rx="6.5" ry="4.4"/>
<ellipse cx="471.46" cy="771.43" rx="6.5" ry="4.4"/>
<ellipse cx="477.41" cy="773.98" rx="6.5" ry="4.4"/>
<ellipse cx="485.07" cy="777.38" rx="6.5" ry="4.4"/>
<ellipse cx="499.52" cy="783.33" rx="6.5" ry="4.4"/>
<ellipse cx="505.48" cy="785.88" rx="6.5" ry="4.4"/>
<ellipse cx="513.98" cy="790.14" rx="6.5" ry="4.4"/>
<ellipse cx="516.53" cy="790.99" rx="6.5" ry="4.4"/>
<ellipse cx="528.78" cy="796.09" rx="6.5" ry="4.4"/>
<ellipse cx="545.44" cy="802.89" rx="6.5" ry="4.4"/>
<ellipse cx="564.15" cy="811.39" rx="6.5" ry="4.4"/>
<ellipse cx="582.52" cy="813.95" rx="6.5" ry="4.4"/>
<ellipse cx="592.72" cy="796.43" rx="6.5" ry="4.4"/>
<ellipse cx="682.35" cy="862.41" rx="6.5" ry="4.4"/>
<ellipse cx="697.65" cy="869.22" rx="6.5" ry="4.4"/>
<ellipse cx="783.5" cy="860.5" rx="6.5" ry="4.4"/>
<ellipse cx="742.5" cy="936" rx="6.5" ry="4.4"/>
</g>
<ellipse cx="164.97" cy="685.92" rx="5.1" ry="3" fill="none" stroke="#000" stroke-width="2.3"/>
<ellipse cx="219.73" cy="662.11" rx="5.1" ry="3" fill="none" stroke="#000" stroke-width="2.3"/>
<ellipse cx="234.52" cy="656.16" rx="5.1" ry="3" fill="none" stroke="#000" stroke-width="1.5"/>
<ellipse cx="235.03" cy="668.91" rx="5.1" ry="3" fill="none" stroke="#000" stroke-width="1.5"/>
<ellipse cx="246.6" cy="673.67" rx="5.1" ry="3" fill="none" stroke="#000" stroke-width="1.5"/>
<ellipse cx="249.49" cy="685.58" rx="5.1" ry="3" fill="none" stroke="#000" stroke-width="2.3"/>
<ellipse cx="252.04" cy="685.92" rx="5.1" ry="3" fill="none" stroke="#000" stroke-width="1.5"/>
<ellipse cx="263.95" cy="680.82" rx="5.1" ry="3" fill="none" stroke="#000" stroke-width="1.5"/>
<ellipse cx="266.5" cy="682.18" rx="5.1" ry="3" fill="none" stroke="#000" stroke-width="1.5"/>
<ellipse cx="284.35" cy="690.17" rx="5.1" ry="3" fill="none" stroke="#000" stroke-width="2.3"/>
<ellipse cx="290.31" cy="692.72" rx="5.1" ry="3" fill="none" stroke="#000" stroke-width="1.5"/>
<ellipse cx="250.85" cy="704.63" rx="5.1" ry="3" fill="none" stroke="#000" stroke-width="2.3"/>
<ellipse cx="294.22" cy="704.63" rx="5.1" ry="3" fill="none" stroke="#000" stroke-width="1.5"/>
<ellipse cx="223.13" cy="711.09" rx="5.1" ry="3" fill="none" stroke="#000" stroke-width="1.5"/>
<ellipse cx="229.93" cy="714.32" rx="5.1" ry="3" fill="none" stroke="#000" stroke-width="1.5"/>
<ellipse cx="272.45" cy="713.98" rx="5.1" ry="3" fill="none" stroke="#000" stroke-width="2.3"/>
<ellipse cx="280.1" cy="717.38" rx="5.1" ry="3" fill="none" stroke="#000" stroke-width="1.5"/>
<ellipse cx="306.46" cy="699.52" rx="5.1" ry="3" fill="none" stroke="#000" stroke-width="2.3"/>
<ellipse cx="310.71" cy="701.22" rx="5.1" ry="3" fill="none" stroke="#000" stroke-width="1.5"/>
<ellipse cx="315.82" cy="703.27" rx="5.1" ry="3" fill="none" stroke="#000" stroke-width="1.5"/>
<ellipse cx="322.62" cy="706.84" rx="5.1" ry="3" fill="none" stroke="#000" stroke-width="2.3"/>
<ellipse cx="350.68" cy="699.86" rx="5.1" ry="3" fill="none" stroke="#000" stroke-width="1.5"/>
<ellipse cx="334.52" cy="711.77" rx="5.1" ry="3" fill="none" stroke="#000" stroke-width="1.5"/>
<ellipse cx="339.63" cy="713.98" rx="5.1" ry="3" fill="none" stroke="#000" stroke-width="1.5"/>
<ellipse cx="344.73" cy="710.07" rx="5.1" ry="3" fill="none" stroke="#000" stroke-width="1.5"/>
<ellipse cx="400.85" cy="713.47" rx="5.1" ry="3" fill="none" stroke="#000" stroke-width="1.5"/>
<ellipse cx="350.68" cy="719.08" rx="5.1" ry="3" fill="none" stroke="#000" stroke-width="2.3"/>
<ellipse cx="355.78" cy="721.63" rx="5.1" ry="3" fill="none" stroke="#000" stroke-width="1.5"/>
<ellipse cx="360.88" cy="723.33" rx="5.1" ry="3" fill="none" stroke="#000" stroke-width="1.5"/>
<ellipse cx="365.14" cy="724.52" rx="5.1" ry="3" fill="none" stroke="#000" stroke-width="1.5"/>
<ellipse cx="370.24" cy="727.07" rx="5.1" ry="3" fill="none" stroke="#000" stroke-width="2.3"/>
<ellipse cx="377.89" cy="730.99" rx="5.1" ry="3" fill="none" stroke="#000" stroke-width="1.5"/>
<ellipse cx="386.39" cy="733.88" rx="5.1" ry="3" fill="none" stroke="#000" stroke-width="1.5"/>
<ellipse cx="391.5" cy="736.6" rx="5.1" ry="3" fill="none" stroke="#000" stroke-width="2.3"/>
<ellipse cx="397.45" cy="739.15" rx="5.1" ry="3" fill="none" stroke="#000" stroke-width="1.5"/>
<ellipse cx="406.8" cy="742.89" rx="5.1" ry="3" fill="none" stroke="#000" stroke-width="2.3"/>
<ellipse cx="411.05" cy="744.59" rx="5.1" ry="3" fill="none" stroke="#000" stroke-width="1.5"/>
<ellipse cx="415.31" cy="746.8" rx="5.1" ry="3" fill="none" stroke="#000" stroke-width="2.3"/>
<ellipse cx="420.41" cy="749.18" rx="5.1" ry="3" fill="none" stroke="#000" stroke-width="2.3"/>
<ellipse cx="425.51" cy="746.29" rx="5.1" ry="3" fill="none" stroke="#000" stroke-width="1.5"/>
<ellipse cx="250.85" cy="723.33" rx="5.1" ry="3" fill="none" stroke="#000" stroke-width="1.5"/>
<ellipse cx="269.05" cy="731.33" rx="5.1" ry="3" fill="none" stroke="#000" stroke-width="1.5"/>
<ellipse cx="280.1" cy="736.09" rx="5.1" ry="3" fill="none" stroke="#000" stroke-width="1.5"/>
<ellipse cx="289.12" cy="740" rx="5.1" ry="3" fill="none" stroke="#000" stroke-width="1.5"/>
<ellipse cx="328.23" cy="738.3" rx="5.1" ry="3" fill="none" stroke="#000" stroke-width="1.5"/>
<ellipse cx="343.88" cy="745.1" rx="5.1" ry="3" fill="none" stroke="#000" stroke-width="1.5"/>
<ellipse cx="354.93" cy="749.69" rx="5.1" ry="3" fill="none" stroke="#000" stroke-width="1.5"/>
<ellipse cx="358.33" cy="751.39" rx="5.1" ry="3" fill="none" stroke="#000" stroke-width="2.3"/>
<ellipse cx="364.29" cy="753.61" rx="5.1" ry="3" fill="none" stroke="#000" stroke-width="1.5"/>
<ellipse cx="374.49" cy="740.34" rx="5.1" ry="3" fill="none" stroke="#000" stroke-width="1.5"/>
<ellipse cx="378.74" cy="742.04" rx="5.1" ry="3" fill="none" stroke="#000" stroke-width="1.5"/>
<ellipse cx="336.73" cy="760.75" rx="5.1" ry="3" fill="none" stroke="#000" stroke-width="1.5"/>
<ellipse cx="409.35" cy="773.16" rx="5.1" ry="3" fill="none" stroke="#000" stroke-width="1.5"/>
<ellipse cx="422.11" cy="778.61" rx="5.1" ry="3" fill="none" stroke="#000" stroke-width="1.5"/>
<ellipse cx="424.66" cy="798.5" rx="5.1" ry="3" fill="none" stroke="#000" stroke-width="1.5"/>
<ellipse cx="439.12" cy="757.35" rx="5.1" ry="3" fill="none" stroke="#000" stroke-width="1.5"/>
<ellipse cx="445.92" cy="760.41" rx="5.1" ry="3" fill="none" stroke="#000" stroke-width="2.3"/>
<ellipse cx="454.97" cy="716.16" rx="5.1" ry="3" fill="none" stroke="#000" stroke-width="1.5"/>
<ellipse cx="445.1" cy="759.52" rx="5.1" ry="3" fill="none" stroke="#000" stroke-width="1.5"/>
<ellipse cx="450.2" cy="762.07" rx="5.1" ry="3" fill="none" stroke="#000" stroke-width="1.5"/>
<ellipse cx="455.31" cy="763.78" rx="5.1" ry="3" fill="none" stroke="#000" stroke-width="1.5"/>
<ellipse cx="458.71" cy="764.63" rx="5.1" ry="3" fill="none" stroke="#000" stroke-width="1.5"/>
<ellipse cx="464.66" cy="768.03" rx="5.1" ry="3" fill="none" stroke="#000" stroke-width="1.5"/>
<ellipse cx="474.86" cy="767.18" rx="5.1" ry="3" fill="none" stroke="#000" stroke-width="1.5"/>
<ellipse cx="471.46" cy="771.43" rx="5.1" ry="3" fill="none" stroke="#000" stroke-width="2.3"/>
<ellipse cx="477.41" cy="773.98" rx="5.1" ry="3" fill="none" stroke="#000" stroke-width="1.5"/>
<ellipse cx="485.07" cy="777.38" rx="5.1" ry="3" fill="none" stroke="#000" stroke-width="1.5"/>
<ellipse cx="499.52" cy="783.33" rx="5.1" ry="3" fill="none" stroke="#000" stroke-width="1.5"/>
<ellipse cx="505.48" cy="785.88" rx="5.1" ry="3" fill="none" stroke="#000" stroke-width="1.5"/>
<ellipse cx="513.98" cy="790.14" rx="5.1" ry="3" fill="none" stroke="#000" stroke-width="1.5"/>
<ellipse cx="516.53" cy="790.99" rx="5.1" ry="3" fill="none" stroke="#000" stroke-width="1.5"/>
<ellipse cx="528.78" cy="796.09" rx="5.1" ry="3" fill="none" stroke="#000" stroke-width="1.5"/>
<ellipse cx="545.44" cy="802.89" rx="5.1" ry="3" fill="none" stroke="#000" stroke-width="2.3"/>
<ellipse cx="564.15" cy="811.39" rx="5.1" ry="3" fill="none" stroke="#000" stroke-width="1.5"/>
<ellipse cx="582.52" cy="813.95" rx="5.1" ry="3" fill="none" stroke="#000" stroke-width="1.5"/>
<ellipse cx="592.72" cy="796.43" rx="5.1" ry="3" fill="none" stroke="#000" stroke-width="1.5"/>
<ellipse cx="682.35" cy="862.41" rx="5.1" ry="3" fill="none" stroke="#000" stroke-width="1.5"/>
<ellipse cx="697.65" cy="869.22" rx="5.1" ry="3" fill="none" stroke="#000" stroke-width="1.5"/>
<ellipse cx="783.5" cy="860.5" rx="5.1" ry="3" fill="none" stroke="#000" stroke-width="1.5"/>
<ellipse cx="742.5" cy="936" rx="5.1" ry="3" fill="none" stroke="#000" stroke-width="1.5"/>
<rect x="812.5" y="646.9" width="39.2" height="12.1" fill="#fff" stroke="#1a1a1a" stroke-width="1.1"/>
<text transform="translate(812.54 657.2) scale(1.5 1)" font-family='"Liberation Sans", Arial, sans-serif' font-weight="normal" font-size="10.29" stroke="#000" stroke-width="0.3">185.4</text>
<rect x="807.1" y="729.7" width="44.6" height="12.1" fill="#fff" stroke="#1a1a1a" stroke-width="1.1"/>
<text transform="translate(807.61 740) scale(1.49 1)" font-family='"Liberation Sans", Arial, sans-serif' font-weight="normal" font-size="10.29" stroke="#000" stroke-width="0.3">-283.0</text>
<rect x="806.5" y="812.1" width="45.2" height="12.1" fill="#fff" stroke="#1a1a1a" stroke-width="1.1"/>
<text transform="translate(807 822.4) scale(1.51 1)" font-family='"Liberation Sans", Arial, sans-serif' font-weight="normal" font-size="10.29" stroke="#000" stroke-width="0.3">-751.4</text>
<text transform="translate(19 933.32) scale(1.25 1) rotate(-90)" font-family='"Liberation Sans", Arial, sans-serif' font-weight="bold" font-size="13.09" stroke="#000" stroke-width="0.3">difference in daily intake for vegetabe between 24hrs</text>
<text transform="translate(40.9 799.2) scale(1.69 1) rotate(-90)" font-family='"Liberation Sans", Arial, sans-serif' font-weight="bold" font-size="13.41" stroke="#000" stroke-width="0.3">andFFQ</text>
<text transform="translate(285.48 1008.3) scale(1.35 1)" font-family='"Liberation Sans", Arial, sans-serif' font-weight="bold" font-size="12.85" letter-spacing="1.4" stroke="#000" stroke-width="0.35">average of 24hrs and FFQ for vegetables</text>
<text transform="translate(2.05 552) scale(0.89 1)" font-family='"Liberation Sans", Arial, sans-serif' font-weight="bold" font-size="32.2">C</text>
<rect x="1015.8" y="603.8" width="752.2" height="345.4" fill="#ffffff" stroke="none" stroke-width="0"/>
<rect x="1017.9" y="605.9" width="748" height="341.2" fill="#f0f0f0" stroke="none" stroke-width="0"/>
<rect x="1015.8" y="603.8" width="752.2" height="345.4" fill="none" stroke="#1a1a1a" stroke-width="1.5"/>
<line x1="1006.3" y1="621" x2="1015.8" y2="621" stroke="#1a1a1a" stroke-width="1.5"/>
<text transform="translate(949.26 625.4) scale(1.54 1)" font-family='"Liberation Sans", Arial, sans-serif' font-weight="normal" font-size="9.86" stroke="#000" stroke-width="0.3">1500.00</text>
<line x1="1006.3" y1="698.7" x2="1015.8" y2="698.7" stroke="#1a1a1a" stroke-width="1.5"/>
<text transform="translate(949.26 703.1) scale(1.54 1)" font-family='"Liberation Sans", Arial, sans-serif' font-weight="normal" font-size="9.86" stroke="#000" stroke-width="0.3">1000.00</text>
<line x1="1006.3" y1="776.4" x2="1015.8" y2="776.4" stroke="#1a1a1a" stroke-width="1.5"/>
<text transform="translate(957.72 780.8) scale(1.54 1)" font-family='"Liberation Sans", Arial, sans-serif' font-weight="normal" font-size="9.86" stroke="#000" stroke-width="0.3">500.00</text>
<line x1="1006.3" y1="854.1" x2="1015.8" y2="854.1" stroke="#1a1a1a" stroke-width="1.5"/>
<text transform="translate(983.16 858.5) scale(1.54 1)" font-family='"Liberation Sans", Arial, sans-serif' font-weight="normal" font-size="9.86" stroke="#000" stroke-width="0.3">.00</text>
<line x1="1006.3" y1="931.8" x2="1015.8" y2="931.8" stroke="#1a1a1a" stroke-width="1.5"/>
<text transform="translate(952.69 936.2) scale(1.54 1)" font-family='"Liberation Sans", Arial, sans-serif' font-weight="normal" font-size="9.86" stroke="#000" stroke-width="0.3">-500.00</text>
<line x1="1054" y1="949.2" x2="1054" y2="955.2" stroke="#1a1a1a" stroke-width="1.5"/>
<text transform="translate(1042.99 964.2) scale(1.54 1)" font-family='"Liberation Sans", Arial, sans-serif' font-weight="normal" font-size="9.86" stroke="#000" stroke-width="0.3">.00</text>
<line x1="1144.1" y1="949.2" x2="1144.1" y2="955.2" stroke="#1a1a1a" stroke-width="1.5"/>
<text transform="translate(1120.68 964.2) scale(1.54 1)" font-family='"Liberation Sans", Arial, sans-serif' font-weight="normal" font-size="9.86" stroke="#000" stroke-width="0.3">200.00</text>
<line x1="1234.2" y1="949.2" x2="1234.2" y2="955.2" stroke="#1a1a1a" stroke-width="1.5"/>
<text transform="translate(1211.01 964.2) scale(1.54 1)" font-family='"Liberation Sans", Arial, sans-serif' font-weight="normal" font-size="9.86" stroke="#000" stroke-width="0.3">400.00</text>
<line x1="1324.3" y1="949.2" x2="1324.3" y2="955.2" stroke="#1a1a1a" stroke-width="1.5"/>
<text transform="translate(1300.88 964.2) scale(1.54 1)" font-family='"Liberation Sans", Arial, sans-serif' font-weight="normal" font-size="9.86" stroke="#000" stroke-width="0.3">600.00</text>
<line x1="1414.4" y1="949.2" x2="1414.4" y2="955.2" stroke="#1a1a1a" stroke-width="1.5"/>
<text transform="translate(1391.02 964.2) scale(1.54 1)" font-family='"Liberation Sans", Arial, sans-serif' font-weight="normal" font-size="9.86" stroke="#000" stroke-width="0.3">800.00</text>
<line x1="1504.5" y1="949.2" x2="1504.5" y2="955.2" stroke="#1a1a1a" stroke-width="1.5"/>
<text transform="translate(1476.66 964.2) scale(1.54 1)" font-family='"Liberation Sans", Arial, sans-serif' font-weight="normal" font-size="9.86" stroke="#000" stroke-width="0.3">1000.00</text>
<line x1="1594.6" y1="949.2" x2="1594.6" y2="955.2" stroke="#1a1a1a" stroke-width="1.5"/>
<text transform="translate(1566.76 964.2) scale(1.54 1)" font-family='"Liberation Sans", Arial, sans-serif' font-weight="normal" font-size="9.86" stroke="#000" stroke-width="0.3">1200.00</text>
<line x1="1684.7" y1="949.2" x2="1684.7" y2="955.2" stroke="#1a1a1a" stroke-width="1.5"/>
<text transform="translate(1656.86 964.2) scale(1.54 1)" font-family='"Liberation Sans", Arial, sans-serif' font-weight="normal" font-size="9.86" stroke="#000" stroke-width="0.3">1400.00</text>
<line x1="1016.6" y1="743.5" x2="1767.2" y2="743.5" stroke="#ffffff" stroke-width="3.4"/>
<line x1="1015.8" y1="743.5" x2="1768" y2="743.5" stroke="#1e1e1e" stroke-width="1.2"/>
<line x1="1016.6" y1="804.5" x2="1767.2" y2="804.5" stroke="#ffffff" stroke-width="3.7"/>
<line x1="1015.8" y1="804.5" x2="1768" y2="804.5" stroke="#1e1e1e" stroke-width="1.5"/>
<line x1="1016.6" y1="866.5" x2="1767.2" y2="866.5" stroke="#ffffff" stroke-width="3.4"/>
<line x1="1015.8" y1="866.5" x2="1768" y2="866.5" stroke="#1e1e1e" stroke-width="1.2"/>
<g fill="#fff" stroke="none">
<ellipse cx="1279.42" cy="750.2" rx="6.4" ry="4.35"/>
<ellipse cx="1316.84" cy="750.2" rx="6.4" ry="4.35"/>
<ellipse cx="1392.18" cy="750.2" rx="6.4" ry="4.35"/>
<ellipse cx="1279.42" cy="758.71" rx="6.4" ry="4.35"/>
<ellipse cx="1354.76" cy="769.76" rx="6.4" ry="4.35"/>
<ellipse cx="1316.84" cy="776.05" rx="6.4" ry="4.35"/>
<ellipse cx="1327.04" cy="776.05" rx="6.4" ry="4.35"/>
<ellipse cx="1339.8" cy="776.05" rx="6.4" ry="4.35"/>
<ellipse cx="1354.76" cy="776.05" rx="6.4" ry="4.35"/>
<ellipse cx="1312.59" cy="784.73" rx="6.4" ry="4.35"/>
<ellipse cx="1354.76" cy="784.73" rx="6.4" ry="4.35"/>
<ellipse cx="1279.42" cy="795.61" rx="6.4" ry="4.35"/>
<ellipse cx="1204.08" cy="802.07" rx="6.4" ry="4.35"/>
<ellipse cx="1205.1" cy="802.07" rx="6.4" ry="4.35"/>
<ellipse cx="1257.31" cy="802.07" rx="6.4" ry="4.35"/>
<ellipse cx="1279.42" cy="802.07" rx="6.4" ry="4.35"/>
<ellipse cx="1289.63" cy="802.07" rx="6.4" ry="4.35"/>
<ellipse cx="1316.84" cy="802.07" rx="6.4" ry="4.35"/>
<ellipse cx="1354.25" cy="802.07" rx="6.4" ry="4.35"/>
<ellipse cx="1361.9" cy="802.07" rx="6.4" ry="4.35"/>
<ellipse cx="1370.41" cy="802.07" rx="6.4" ry="4.35"/>
<ellipse cx="1383.16" cy="802.07" rx="6.4" ry="4.35"/>
<ellipse cx="1392.52" cy="802.07" rx="6.4" ry="4.35"/>
<ellipse cx="1398.47" cy="802.07" rx="6.4" ry="4.35"/>
<ellipse cx="1316.84" cy="812.28" rx="6.4" ry="4.35"/>
<ellipse cx="1389.12" cy="809.39" rx="6.4" ry="4.35"/>
<ellipse cx="1396.77" cy="809.39" rx="6.4" ry="4.35"/>
<ellipse cx="1165.48" cy="828.1" rx="6.4" ry="4.35"/>
<ellipse cx="1166.67" cy="828.1" rx="6.4" ry="4.35"/>
<ellipse cx="1169.73" cy="827.07" rx="6.4" ry="4.35"/>
<ellipse cx="1177.89" cy="828.1" rx="6.4" ry="4.35"/>
<ellipse cx="1204.59" cy="828.1" rx="6.4" ry="4.35"/>
<ellipse cx="1205.78" cy="828.1" rx="6.4" ry="4.35"/>
<ellipse cx="1241.67" cy="828.1" rx="6.4" ry="4.35"/>
<ellipse cx="1264.12" cy="828.1" rx="6.4" ry="4.35"/>
<ellipse cx="1272.62" cy="828.1" rx="6.4" ry="4.35"/>
<ellipse cx="1279.42" cy="828.1" rx="6.4" ry="4.35"/>
<ellipse cx="1310.37" cy="828.1" rx="6.4" ry="4.35"/>
<ellipse cx="1348.3" cy="828.1" rx="6.4" ry="4.35"/>
<ellipse cx="1355.1" cy="828.1" rx="6.4" ry="4.35"/>
<ellipse cx="1358.5" cy="828.1" rx="6.4" ry="4.35"/>
<ellipse cx="1370.41" cy="828.1" rx="6.4" ry="4.35"/>
<ellipse cx="1377.21" cy="828.1" rx="6.4" ry="4.35"/>
<ellipse cx="1388.27" cy="828.1" rx="6.4" ry="4.35"/>
<ellipse cx="1204.08" cy="853.95" rx="6.4" ry="4.35"/>
<ellipse cx="1380.61" cy="856.5" rx="6.4" ry="4.35"/>
<ellipse cx="1128.91" cy="879.97" rx="6.4" ry="4.35"/>
<ellipse cx="1204.08" cy="879.97" rx="6.4" ry="4.35"/>
<ellipse cx="1279.42" cy="879.97" rx="6.4" ry="4.35"/>
<ellipse cx="1140.82" cy="897.31" rx="6.4" ry="4.35"/>
<ellipse cx="1632.35" cy="656.67" rx="6.4" ry="4.35"/>
<ellipse cx="1688.47" cy="652.24" rx="6.4" ry="4.35"/>
<ellipse cx="1459.73" cy="750.2" rx="6.4" ry="4.35"/>
<ellipse cx="1492.04" cy="750.2" rx="6.4" ry="4.35"/>
<ellipse cx="1429.97" cy="758.71" rx="6.4" ry="4.35"/>
<ellipse cx="1440.17" cy="766.7" rx="6.4" ry="4.35"/>
<ellipse cx="1463.47" cy="769.76" rx="6.4" ry="4.35"/>
<ellipse cx="1414.66" cy="776.05" rx="6.4" ry="4.35"/>
<ellipse cx="1424.86" cy="776.05" rx="6.4" ry="4.35"/>
<ellipse cx="1453.78" cy="776.05" rx="6.4" ry="4.35"/>
<ellipse cx="1455.48" cy="780.82" rx="6.4" ry="4.35"/>
<ellipse cx="1485.75" cy="776.05" rx="6.4" ry="4.35"/>
<ellipse cx="1535.41" cy="776.05" rx="6.4" ry="4.35"/>
<ellipse cx="1569.42" cy="780.82" rx="6.4" ry="4.35"/>
<ellipse cx="1608.54" cy="776.05" rx="6.4" ry="4.35"/>
<ellipse cx="1657.35" cy="771.46" rx="6.4" ry="4.35"/>
<ellipse cx="1492.04" cy="788.81" rx="6.4" ry="4.35"/>
<ellipse cx="1501.9" cy="794.25" rx="6.4" ry="4.35"/>
<ellipse cx="1520.95" cy="796.12" rx="6.4" ry="4.35"/>
<ellipse cx="1400.2" cy="801.9" rx="6.4" ry="4.35"/>
<ellipse cx="1406.16" cy="801.9" rx="6.4" ry="4.35"/>
<ellipse cx="1418.06" cy="801.9" rx="6.4" ry="4.35"/>
<ellipse cx="1429.12" cy="801.9" rx="6.4" ry="4.35"/>
<ellipse cx="1434.22" cy="801.9" rx="6.4" ry="4.35"/>
<ellipse cx="1437.62" cy="801.9" rx="6.4" ry="4.35"/>
<ellipse cx="1456.33" cy="801.9" rx="6.4" ry="4.35"/>
<ellipse cx="1467.89" cy="801.9" rx="6.4" ry="4.35"/>
<ellipse cx="1486.94" cy="801.9" rx="6.4" ry="4.35"/>
<ellipse cx="1492.04" cy="801.9" rx="6.4" ry="4.35"/>
<ellipse cx="1502.24" cy="801.9" rx="6.4" ry="4.35"/>
<ellipse cx="1507.35" cy="801.9" rx="6.4" ry="4.35"/>
<ellipse cx="1523.5" cy="801.9" rx="6.4" ry="4.35"/>
<ellipse cx="1543.06" cy="801.9" rx="6.4" ry="4.35"/>
<ellipse cx="1571.12" cy="801.9" rx="6.4" ry="4.35"/>
<ellipse cx="1601.22" cy="801.9" rx="6.4" ry="4.35"/>
<ellipse cx="1617.89" cy="801.9" rx="6.4" ry="4.35"/>
<ellipse cx="1410.07" cy="827.93" rx="6.4" ry="4.35"/>
<ellipse cx="1429.97" cy="827.93" rx="6.4" ry="4.35"/>
<ellipse cx="1607" cy="879.7" rx="6.4" ry="4.35"/>
</g>
<ellipse cx="1279.42" cy="750.2" rx="5" ry="2.95" fill="none" stroke="#000" stroke-width="1.5"/>
<ellipse cx="1316.84" cy="750.2" rx="5" ry="2.95" fill="none" stroke="#000" stroke-width="1.5"/>
<ellipse cx="1392.18" cy="750.2" rx="5" ry="2.95" fill="none" stroke="#000" stroke-width="1.5"/>
<ellipse cx="1279.42" cy="758.71" rx="5" ry="2.95" fill="none" stroke="#000" stroke-width="1.5"/>
<ellipse cx="1354.76" cy="769.76" rx="5" ry="2.95" fill="none" stroke="#000" stroke-width="1.5"/>
<ellipse cx="1316.84" cy="776.05" rx="5" ry="2.95" fill="none" stroke="#000" stroke-width="1.5"/>
<ellipse cx="1327.04" cy="776.05" rx="5" ry="2.95" fill="none" stroke="#000" stroke-width="1.5"/>
<ellipse cx="1339.8" cy="776.05" rx="5" ry="2.95" fill="none" stroke="#000" stroke-width="1.5"/>
<ellipse cx="1354.76" cy="776.05" rx="5" ry="2.95" fill="none" stroke="#000" stroke-width="2.3"/>
<ellipse cx="1312.59" cy="784.73" rx="5" ry="2.95" fill="none" stroke="#000" stroke-width="1.5"/>
<ellipse cx="1354.76" cy="784.73" rx="5" ry="2.95" fill="none" stroke="#000" stroke-width="1.5"/>
<ellipse cx="1279.42" cy="795.61" rx="5" ry="2.95" fill="none" stroke="#000" stroke-width="1.5"/>
<ellipse cx="1204.08" cy="802.07" rx="5" ry="2.95" fill="none" stroke="#000" stroke-width="2.3"/>
<ellipse cx="1205.1" cy="802.07" rx="5" ry="2.95" fill="none" stroke="#000" stroke-width="2.3"/>
<ellipse cx="1257.31" cy="802.07" rx="5" ry="2.95" fill="none" stroke="#000" stroke-width="1.5"/>
<ellipse cx="1279.42" cy="802.07" rx="5" ry="2.95" fill="none" stroke="#000" stroke-width="2.3"/>
<ellipse cx="1289.63" cy="802.07" rx="5" ry="2.95" fill="none" stroke="#000" stroke-width="1.5"/>
<ellipse cx="1316.84" cy="802.07" rx="5" ry="2.95" fill="none" stroke="#000" stroke-width="2.3"/>
<ellipse cx="1354.25" cy="802.07" rx="5" ry="2.95" fill="none" stroke="#000" stroke-width="2.3"/>
<ellipse cx="1361.9" cy="802.07" rx="5" ry="2.95" fill="none" stroke="#000" stroke-width="1.5"/>
<ellipse cx="1370.41" cy="802.07" rx="5" ry="2.95" fill="none" stroke="#000" stroke-width="1.5"/>
<ellipse cx="1383.16" cy="802.07" rx="5" ry="2.95" fill="none" stroke="#000" stroke-width="1.5"/>
<ellipse cx="1392.52" cy="802.07" rx="5" ry="2.95" fill="none" stroke="#000" stroke-width="2.3"/>
<ellipse cx="1398.47" cy="802.07" rx="5" ry="2.95" fill="none" stroke="#000" stroke-width="2.3"/>
<ellipse cx="1316.84" cy="812.28" rx="5" ry="2.95" fill="none" stroke="#000" stroke-width="1.5"/>
<ellipse cx="1389.12" cy="809.39" rx="5" ry="2.95" fill="none" stroke="#000" stroke-width="1.5"/>
<ellipse cx="1396.77" cy="809.39" rx="5" ry="2.95" fill="none" stroke="#000" stroke-width="1.5"/>
<ellipse cx="1165.48" cy="828.1" rx="5" ry="2.95" fill="none" stroke="#000" stroke-width="2.3"/>
<ellipse cx="1166.67" cy="828.1" rx="5" ry="2.95" fill="none" stroke="#000" stroke-width="2.3"/>
<ellipse cx="1169.73" cy="827.07" rx="5" ry="2.95" fill="none" stroke="#000" stroke-width="1.5"/>
<ellipse cx="1177.89" cy="828.1" rx="5" ry="2.95" fill="none" stroke="#000" stroke-width="1.5"/>
<ellipse cx="1204.59" cy="828.1" rx="5" ry="2.95" fill="none" stroke="#000" stroke-width="2.3"/>
<ellipse cx="1205.78" cy="828.1" rx="5" ry="2.95" fill="none" stroke="#000" stroke-width="2.3"/>
<ellipse cx="1241.67" cy="828.1" rx="5" ry="2.95" fill="none" stroke="#000" stroke-width="2.3"/>
<ellipse cx="1264.12" cy="828.1" rx="5" ry="2.95" fill="none" stroke="#000" stroke-width="1.5"/>
<ellipse cx="1272.62" cy="828.1" rx="5" ry="2.95" fill="none" stroke="#000" stroke-width="1.5"/>
<ellipse cx="1279.42" cy="828.1" rx="5" ry="2.95" fill="none" stroke="#000" stroke-width="2.3"/>
<ellipse cx="1310.37" cy="828.1" rx="5" ry="2.95" fill="none" stroke="#000" stroke-width="1.5"/>
<ellipse cx="1348.3" cy="828.1" rx="5" ry="2.95" fill="none" stroke="#000" stroke-width="1.5"/>
<ellipse cx="1355.1" cy="828.1" rx="5" ry="2.95" fill="none" stroke="#000" stroke-width="2.3"/>
<ellipse cx="1358.5" cy="828.1" rx="5" ry="2.95" fill="none" stroke="#000" stroke-width="1.5"/>
<ellipse cx="1370.41" cy="828.1" rx="5" ry="2.95" fill="none" stroke="#000" stroke-width="1.5"/>
<ellipse cx="1377.21" cy="828.1" rx="5" ry="2.95" fill="none" stroke="#000" stroke-width="1.5"/>
<ellipse cx="1388.27" cy="828.1" rx="5" ry="2.95" fill="none" stroke="#000" stroke-width="1.5"/>
<ellipse cx="1204.08" cy="853.95" rx="5" ry="2.95" fill="none" stroke="#000" stroke-width="1.5"/>
<ellipse cx="1380.61" cy="856.5" rx="5" ry="2.95" fill="none" stroke="#000" stroke-width="1.5"/>
<ellipse cx="1128.91" cy="879.97" rx="5" ry="2.95" fill="none" stroke="#000" stroke-width="2.3"/>
<ellipse cx="1204.08" cy="879.97" rx="5" ry="2.95" fill="none" stroke="#000" stroke-width="1.5"/>
<ellipse cx="1279.42" cy="879.97" rx="5" ry="2.95" fill="none" stroke="#000" stroke-width="1.5"/>
<ellipse cx="1140.82" cy="897.31" rx="5" ry="2.95" fill="none" stroke="#000" stroke-width="1.5"/>
<ellipse cx="1632.35" cy="656.67" rx="5" ry="2.95" fill="none" stroke="#000" stroke-width="1.5"/>
<ellipse cx="1688.47" cy="652.24" rx="5" ry="2.95" fill="none" stroke="#000" stroke-width="1.5"/>
<ellipse cx="1459.73" cy="750.2" rx="5" ry="2.95" fill="none" stroke="#000" stroke-width="1.5"/>
<ellipse cx="1492.04" cy="750.2" rx="5" ry="2.95" fill="none" stroke="#000" stroke-width="1.5"/>
<ellipse cx="1429.97" cy="758.71" rx="5" ry="2.95" fill="none" stroke="#000" stroke-width="1.5"/>
<ellipse cx="1440.17" cy="766.7" rx="5" ry="2.95" fill="none" stroke="#000" stroke-width="1.5"/>
<ellipse cx="1463.47" cy="769.76" rx="5" ry="2.95" fill="none" stroke="#000" stroke-width="1.5"/>
<ellipse cx="1414.66" cy="776.05" rx="5" ry="2.95" fill="none" stroke="#000" stroke-width="1.5"/>
<ellipse cx="1424.86" cy="776.05" rx="5" ry="2.95" fill="none" stroke="#000" stroke-width="1.5"/>
<ellipse cx="1453.78" cy="776.05" rx="5" ry="2.95" fill="none" stroke="#000" stroke-width="1.5"/>
<ellipse cx="1455.48" cy="780.82" rx="5" ry="2.95" fill="none" stroke="#000" stroke-width="1.5"/>
<ellipse cx="1485.75" cy="776.05" rx="5" ry="2.95" fill="none" stroke="#000" stroke-width="1.5"/>
<ellipse cx="1535.41" cy="776.05" rx="5" ry="2.95" fill="none" stroke="#000" stroke-width="1.5"/>
<ellipse cx="1569.42" cy="780.82" rx="5" ry="2.95" fill="none" stroke="#000" stroke-width="1.5"/>
<ellipse cx="1608.54" cy="776.05" rx="5" ry="2.95" fill="none" stroke="#000" stroke-width="1.5"/>
<ellipse cx="1657.35" cy="771.46" rx="5" ry="2.95" fill="none" stroke="#000" stroke-width="1.5"/>
<ellipse cx="1492.04" cy="788.81" rx="5" ry="2.95" fill="none" stroke="#000" stroke-width="1.5"/>
<ellipse cx="1501.9" cy="794.25" rx="5" ry="2.95" fill="none" stroke="#000" stroke-width="1.5"/>
<ellipse cx="1520.95" cy="796.12" rx="5" ry="2.95" fill="none" stroke="#000" stroke-width="1.5"/>
<ellipse cx="1400.2" cy="801.9" rx="5" ry="2.95" fill="none" stroke="#000" stroke-width="1.5"/>
<ellipse cx="1406.16" cy="801.9" rx="5" ry="2.95" fill="none" stroke="#000" stroke-width="1.5"/>
<ellipse cx="1418.06" cy="801.9" rx="5" ry="2.95" fill="none" stroke="#000" stroke-width="1.5"/>
<ellipse cx="1429.12" cy="801.9" rx="5" ry="2.95" fill="none" stroke="#000" stroke-width="2.3"/>
<ellipse cx="1434.22" cy="801.9" rx="5" ry="2.95" fill="none" stroke="#000" stroke-width="2.3"/>
<ellipse cx="1437.62" cy="801.9" rx="5" ry="2.95" fill="none" stroke="#000" stroke-width="1.5"/>
<ellipse cx="1456.33" cy="801.9" rx="5" ry="2.95" fill="none" stroke="#000" stroke-width="1.5"/>
<ellipse cx="1467.89" cy="801.9" rx="5" ry="2.95" fill="none" stroke="#000" stroke-width="2.3"/>
<ellipse cx="1486.94" cy="801.9" rx="5" ry="2.95" fill="none" stroke="#000" stroke-width="1.5"/>
<ellipse cx="1492.04" cy="801.9" rx="5" ry="2.95" fill="none" stroke="#000" stroke-width="2.3"/>
<ellipse cx="1502.24" cy="801.9" rx="5" ry="2.95" fill="none" stroke="#000" stroke-width="2.3"/>
<ellipse cx="1507.35" cy="801.9" rx="5" ry="2.95" fill="none" stroke="#000" stroke-width="1.5"/>
<ellipse cx="1523.5" cy="801.9" rx="5" ry="2.95" fill="none" stroke="#000" stroke-width="2.3"/>
<ellipse cx="1543.06" cy="801.9" rx="5" ry="2.95" fill="none" stroke="#000" stroke-width="1.5"/>
<ellipse cx="1571.12" cy="801.9" rx="5" ry="2.95" fill="none" stroke="#000" stroke-width="1.5"/>
<ellipse cx="1601.22" cy="801.9" rx="5" ry="2.95" fill="none" stroke="#000" stroke-width="1.5"/>
<ellipse cx="1617.89" cy="801.9" rx="5" ry="2.95" fill="none" stroke="#000" stroke-width="1.5"/>
<ellipse cx="1410.07" cy="827.93" rx="5" ry="2.95" fill="none" stroke="#000" stroke-width="1.5"/>
<ellipse cx="1429.97" cy="827.93" rx="5" ry="2.95" fill="none" stroke="#000" stroke-width="1.5"/>
<ellipse cx="1607" cy="879.7" rx="5" ry="2.95" fill="none" stroke="#000" stroke-width="1.5"/>
<rect x="1719.5" y="737.3" width="47.7" height="11" fill="#fff" stroke="#1a1a1a" stroke-width="1.1"/>
<text transform="translate(1719.93 746.3) scale(1.76 1)" font-family='"Liberation Sans", Arial, sans-serif' font-weight="normal" font-size="8.71" stroke="#000" stroke-width="0.3">713.59</text>
<rect x="1728.1" y="799.2" width="39.1" height="11" fill="#fff" stroke="#1a1a1a" stroke-width="1.1"/>
<text transform="translate(1728.69 808.2) scale(1.74 1)" font-family='"Liberation Sans", Arial, sans-serif' font-weight="normal" font-size="8.71" stroke="#000" stroke-width="0.3">316.0</text>
<rect x="1722" y="861" width="45.2" height="11" fill="#fff" stroke="#1a1a1a" stroke-width="1.1"/>
<text transform="translate(1722.5 870) scale(1.79 1)" font-family='"Liberation Sans", Arial, sans-serif' font-weight="normal" font-size="8.71" stroke="#000" stroke-width="0.3">-81.29</text>
<text transform="translate(933.3 891.58) scale(1.77 1) rotate(-90)" font-family='"Liberation Sans", Arial, sans-serif' font-weight="bold" font-size="11.93" stroke="#000" stroke-width="0.3">mean difference for daily intake legumes</text>
<text transform="translate(1161.24 982.6) scale(1.54 1)" font-family='"Liberation Sans", Arial, sans-serif' font-weight="bold" font-size="12.5" letter-spacing="0.45" style="white-space:pre" stroke="#000" stroke-width="0.35">mean of 24hr andFFQ  for daily intake legumes</text>
<text transform="translate(908.87 552.1) scale(0.92 1)" font-family='"Liberation Sans", Arial, sans-serif' font-weight="bold" font-size="32.2">D</text>
<rect x="106.5" y="1117" width="746" height="362" fill="#ffffff" stroke="none" stroke-width="0"/>
<rect x="108.6" y="1119.1" width="741.8" height="357.8" fill="#f0f0f0" stroke="none" stroke-width="0"/>
<rect x="106.5" y="1117" width="746" height="362" fill="none" stroke="#1a1a1a" stroke-width="1.5"/>
<line x1="97" y1="1135.16" x2="106.5" y2="1135.16" stroke="#1a1a1a" stroke-width="1.5"/>
<text transform="translate(48.67 1139.76) scale(1.51 1)" font-family='"Liberation Sans", Arial, sans-serif' font-weight="normal" font-size="10.1" stroke="#000" stroke-width="0.3">500.00</text>
<line x1="97" y1="1189.5" x2="106.5" y2="1189.5" stroke="#1a1a1a" stroke-width="1.5"/>
<text transform="translate(74.13 1194.1) scale(1.51 1)" font-family='"Liberation Sans", Arial, sans-serif' font-weight="normal" font-size="10.1" stroke="#000" stroke-width="0.3">.00</text>
<line x1="97" y1="1243.84" x2="106.5" y2="1243.84" stroke="#1a1a1a" stroke-width="1.5"/>
<text transform="translate(43.63 1248.43) scale(1.51 1)" font-family='"Liberation Sans", Arial, sans-serif' font-weight="normal" font-size="10.1" stroke="#000" stroke-width="0.3">-500.00</text>
<line x1="97" y1="1298.17" x2="106.5" y2="1298.17" stroke="#1a1a1a" stroke-width="1.5"/>
<text transform="translate(35.17 1302.77) scale(1.51 1)" font-family='"Liberation Sans", Arial, sans-serif' font-weight="normal" font-size="10.1" stroke="#000" stroke-width="0.3">-1000.00</text>
<line x1="97" y1="1352.51" x2="106.5" y2="1352.51" stroke="#1a1a1a" stroke-width="1.5"/>
<text transform="translate(35.17 1357.11) scale(1.51 1)" font-family='"Liberation Sans", Arial, sans-serif' font-weight="normal" font-size="10.1" stroke="#000" stroke-width="0.3">-1500.00</text>
<line x1="97" y1="1406.84" x2="106.5" y2="1406.84" stroke="#1a1a1a" stroke-width="1.5"/>
<text transform="translate(35.17 1411.44) scale(1.51 1)" font-family='"Liberation Sans", Arial, sans-serif' font-weight="normal" font-size="10.1" stroke="#000" stroke-width="0.3">-2000.00</text>
<line x1="97" y1="1461.17" x2="106.5" y2="1461.17" stroke="#1a1a1a" stroke-width="1.5"/>
<text transform="translate(35.17 1465.77) scale(1.51 1)" font-family='"Liberation Sans", Arial, sans-serif' font-weight="normal" font-size="10.1" stroke="#000" stroke-width="0.3">-2500.00</text>
<line x1="143.5" y1="1479" x2="143.5" y2="1485" stroke="#1a1a1a" stroke-width="1.5"/>
<text transform="translate(132.48 1493.8) scale(1.51 1)" font-family='"Liberation Sans", Arial, sans-serif' font-weight="normal" font-size="10.1" stroke="#000" stroke-width="0.3">.00</text>
<line x1="251.08" y1="1479" x2="251.08" y2="1485" stroke="#1a1a1a" stroke-width="1.5"/>
<text transform="translate(227.63 1493.8) scale(1.51 1)" font-family='"Liberation Sans", Arial, sans-serif' font-weight="normal" font-size="10.1" stroke="#000" stroke-width="0.3">200.00</text>
<line x1="358.66" y1="1479" x2="358.66" y2="1485" stroke="#1a1a1a" stroke-width="1.5"/>
<text transform="translate(335.44 1493.8) scale(1.51 1)" font-family='"Liberation Sans", Arial, sans-serif' font-weight="normal" font-size="10.1" stroke="#000" stroke-width="0.3">400.00</text>
<line x1="466.24" y1="1479" x2="466.24" y2="1485" stroke="#1a1a1a" stroke-width="1.5"/>
<text transform="translate(442.79 1493.8) scale(1.51 1)" font-family='"Liberation Sans", Arial, sans-serif' font-weight="normal" font-size="10.1" stroke="#000" stroke-width="0.3">600.00</text>
<line x1="573.82" y1="1479" x2="573.82" y2="1485" stroke="#1a1a1a" stroke-width="1.5"/>
<text transform="translate(550.41 1493.8) scale(1.51 1)" font-family='"Liberation Sans", Arial, sans-serif' font-weight="normal" font-size="10.1" stroke="#000" stroke-width="0.3">800.00</text>
<line x1="681.4" y1="1479" x2="681.4" y2="1485" stroke="#1a1a1a" stroke-width="1.5"/>
<text transform="translate(653.53 1493.8) scale(1.51 1)" font-family='"Liberation Sans", Arial, sans-serif' font-weight="normal" font-size="10.1" stroke="#000" stroke-width="0.3">1000.00</text>
<line x1="788.98" y1="1479" x2="788.98" y2="1485" stroke="#1a1a1a" stroke-width="1.5"/>
<text transform="translate(761.11 1493.8) scale(1.51 1)" font-family='"Liberation Sans", Arial, sans-serif' font-weight="normal" font-size="10.1" stroke="#000" stroke-width="0.3">1200.00</text>
<line x1="107.3" y1="1142.5" x2="851.7" y2="1142.5" stroke="#ffffff" stroke-width="3.4"/>
<line x1="106.5" y1="1142.5" x2="852.5" y2="1142.5" stroke="#1e1e1e" stroke-width="1.2"/>
<line x1="107.3" y1="1231.5" x2="851.7" y2="1231.5" stroke="#ffffff" stroke-width="3.4"/>
<line x1="106.5" y1="1231.5" x2="852.5" y2="1231.5" stroke="#1e1e1e" stroke-width="1.2"/>
<line x1="107.3" y1="1320.5" x2="851.7" y2="1320.5" stroke="#ffffff" stroke-width="3.4"/>
<line x1="106.5" y1="1320.5" x2="852.5" y2="1320.5" stroke="#1e1e1e" stroke-width="1.2"/>
<g fill="#fff" stroke="none">
<ellipse cx="143.5" cy="1189.76" rx="6.3" ry="4.25"/>
<ellipse cx="183.98" cy="1173.27" rx="6.3" ry="4.25"/>
<ellipse cx="212.89" cy="1189.76" rx="6.3" ry="4.25"/>
<ellipse cx="250.99" cy="1189.76" rx="6.3" ry="4.25"/>
<ellipse cx="304.73" cy="1189.76" rx="6.3" ry="4.25"/>
<ellipse cx="183.98" cy="1205.58" rx="6.3" ry="4.25"/>
<ellipse cx="197.59" cy="1211.02" rx="6.3" ry="4.25"/>
<ellipse cx="224.29" cy="1222.07" rx="6.3" ry="4.25"/>
<ellipse cx="277.86" cy="1200.48" rx="6.3" ry="4.25"/>
<ellipse cx="285.51" cy="1203.37" rx="6.3" ry="4.25"/>
<ellipse cx="291.46" cy="1205.58" rx="6.3" ry="4.25"/>
<ellipse cx="264.25" cy="1205.58" rx="6.3" ry="4.25"/>
<ellipse cx="266.8" cy="1211.02" rx="6.3" ry="4.25"/>
<ellipse cx="277.86" cy="1211.02" rx="6.3" ry="4.25"/>
<ellipse cx="304.73" cy="1211.02" rx="6.3" ry="4.25"/>
<ellipse cx="291.12" cy="1216.46" rx="6.3" ry="4.25"/>
<ellipse cx="299.12" cy="1219.52" rx="6.3" ry="4.25"/>
<ellipse cx="304.73" cy="1222.07" rx="6.3" ry="4.25"/>
<ellipse cx="318.33" cy="1227.69" rx="6.3" ry="4.25"/>
<ellipse cx="331.94" cy="1222.07" rx="6.3" ry="4.25"/>
<ellipse cx="351.33" cy="1222.07" rx="6.3" ry="4.25"/>
<ellipse cx="365.1" cy="1227.52" rx="6.3" ry="4.25"/>
<ellipse cx="385.34" cy="1222.07" rx="6.3" ry="4.25"/>
<ellipse cx="401.16" cy="1222.07" rx="6.3" ry="4.25"/>
<ellipse cx="406.6" cy="1219.86" rx="6.3" ry="4.25"/>
<ellipse cx="250.99" cy="1233.13" rx="6.3" ry="4.25"/>
<ellipse cx="264.25" cy="1238.57" rx="6.3" ry="4.25"/>
<ellipse cx="277.86" cy="1243.84" rx="6.3" ry="4.25"/>
<ellipse cx="304.73" cy="1254.39" rx="6.3" ry="4.25"/>
<ellipse cx="328.37" cy="1231.43" rx="6.3" ry="4.25"/>
<ellipse cx="345.37" cy="1238.57" rx="6.3" ry="4.25"/>
<ellipse cx="358.3" cy="1243.84" rx="6.3" ry="4.25"/>
<ellipse cx="366.29" cy="1236.19" rx="6.3" ry="4.25"/>
<ellipse cx="379.9" cy="1252.35" rx="6.3" ry="4.25"/>
<ellipse cx="398.95" cy="1260.34" rx="6.3" ry="4.25"/>
<ellipse cx="412.21" cy="1254.39" rx="6.3" ry="4.25"/>
<ellipse cx="422.41" cy="1237.04" rx="6.3" ry="4.25"/>
<ellipse cx="425.82" cy="1270.88" rx="6.3" ry="4.25"/>
<ellipse cx="398.95" cy="1292.65" rx="6.3" ry="4.25"/>
<ellipse cx="546.7" cy="1157.01" rx="6.3" ry="4.25"/>
<ellipse cx="465.92" cy="1222.14" rx="6.3" ry="4.25"/>
<ellipse cx="452.65" cy="1238.3" rx="6.3" ry="4.25"/>
<ellipse cx="439.05" cy="1276.39" rx="6.3" ry="4.25"/>
<ellipse cx="460.31" cy="1284.9" rx="6.3" ry="4.25"/>
<ellipse cx="506.39" cy="1303.61" rx="6.3" ry="4.25"/>
<ellipse cx="546.7" cy="1287.11" rx="6.3" ry="4.25"/>
<ellipse cx="549.25" cy="1288.3" rx="6.3" ry="4.25"/>
<ellipse cx="559.97" cy="1281.67" rx="6.3" ry="4.25"/>
<ellipse cx="587.01" cy="1270.95" rx="6.3" ry="4.25"/>
<ellipse cx="465.92" cy="1319.93" rx="6.3" ry="4.25"/>
<ellipse cx="613.5" cy="1379.5" rx="6.3" ry="4.25"/>
<ellipse cx="667" cy="1368.5" rx="6.3" ry="4.25"/>
<ellipse cx="747.5" cy="1368.5" rx="6.3" ry="4.25"/>
<ellipse cx="815" cy="1461" rx="6.3" ry="4.25"/>
</g>
<ellipse cx="143.5" cy="1189.76" rx="4.9" ry="2.85" fill="none" stroke="#000" stroke-width="2.3"/>
<ellipse cx="183.98" cy="1173.27" rx="4.9" ry="2.85" fill="none" stroke="#000" stroke-width="1.5"/>
<ellipse cx="212.89" cy="1189.76" rx="4.9" ry="2.85" fill="none" stroke="#000" stroke-width="1.5"/>
<ellipse cx="250.99" cy="1189.76" rx="4.9" ry="2.85" fill="none" stroke="#000" stroke-width="1.5"/>
<ellipse cx="304.73" cy="1189.76" rx="4.9" ry="2.85" fill="none" stroke="#000" stroke-width="1.5"/>
<ellipse cx="183.98" cy="1205.58" rx="4.9" ry="2.85" fill="none" stroke="#000" stroke-width="1.5"/>
<ellipse cx="197.59" cy="1211.02" rx="4.9" ry="2.85" fill="none" stroke="#000" stroke-width="1.5"/>
<ellipse cx="224.29" cy="1222.07" rx="4.9" ry="2.85" fill="none" stroke="#000" stroke-width="2.3"/>
<ellipse cx="277.86" cy="1200.48" rx="4.9" ry="2.85" fill="none" stroke="#000" stroke-width="1.5"/>
<ellipse cx="285.51" cy="1203.37" rx="4.9" ry="2.85" fill="none" stroke="#000" stroke-width="1.5"/>
<ellipse cx="291.46" cy="1205.58" rx="4.9" ry="2.85" fill="none" stroke="#000" stroke-width="1.5"/>
<ellipse cx="264.25" cy="1205.58" rx="4.9" ry="2.85" fill="none" stroke="#000" stroke-width="2.3"/>
<ellipse cx="266.8" cy="1211.02" rx="4.9" ry="2.85" fill="none" stroke="#000" stroke-width="1.5"/>
<ellipse cx="277.86" cy="1211.02" rx="4.9" ry="2.85" fill="none" stroke="#000" stroke-width="2.3"/>
<ellipse cx="304.73" cy="1211.02" rx="4.9" ry="2.85" fill="none" stroke="#000" stroke-width="2.3"/>
<ellipse cx="291.12" cy="1216.46" rx="4.9" ry="2.85" fill="none" stroke="#000" stroke-width="1.5"/>
<ellipse cx="299.12" cy="1219.52" rx="4.9" ry="2.85" fill="none" stroke="#000" stroke-width="1.5"/>
<ellipse cx="304.73" cy="1222.07" rx="4.9" ry="2.85" fill="none" stroke="#000" stroke-width="2.3"/>
<ellipse cx="318.33" cy="1227.69" rx="4.9" ry="2.85" fill="none" stroke="#000" stroke-width="2.3"/>
<ellipse cx="331.94" cy="1222.07" rx="4.9" ry="2.85" fill="none" stroke="#000" stroke-width="2.3"/>
<ellipse cx="351.33" cy="1222.07" rx="4.9" ry="2.85" fill="none" stroke="#000" stroke-width="1.5"/>
<ellipse cx="365.1" cy="1227.52" rx="4.9" ry="2.85" fill="none" stroke="#000" stroke-width="1.5"/>
<ellipse cx="385.34" cy="1222.07" rx="4.9" ry="2.85" fill="none" stroke="#000" stroke-width="2.3"/>
<ellipse cx="401.16" cy="1222.07" rx="4.9" ry="2.85" fill="none" stroke="#000" stroke-width="1.5"/>
<ellipse cx="406.6" cy="1219.86" rx="4.9" ry="2.85" fill="none" stroke="#000" stroke-width="1.5"/>
<ellipse cx="250.99" cy="1233.13" rx="4.9" ry="2.85" fill="none" stroke="#000" stroke-width="1.5"/>
<ellipse cx="264.25" cy="1238.57" rx="4.9" ry="2.85" fill="none" stroke="#000" stroke-width="1.5"/>
<ellipse cx="277.86" cy="1243.84" rx="4.9" ry="2.85" fill="none" stroke="#000" stroke-width="1.5"/>
<ellipse cx="304.73" cy="1254.39" rx="4.9" ry="2.85" fill="none" stroke="#000" stroke-width="1.5"/>
<ellipse cx="328.37" cy="1231.43" rx="4.9" ry="2.85" fill="none" stroke="#000" stroke-width="1.5"/>
<ellipse cx="345.37" cy="1238.57" rx="4.9" ry="2.85" fill="none" stroke="#000" stroke-width="2.3"/>
<ellipse cx="358.3" cy="1243.84" rx="4.9" ry="2.85" fill="none" stroke="#000" stroke-width="2.3"/>
<ellipse cx="366.29" cy="1236.19" rx="4.9" ry="2.85" fill="none" stroke="#000" stroke-width="1.5"/>
<ellipse cx="379.9" cy="1252.35" rx="4.9" ry="2.85" fill="none" stroke="#000" stroke-width="1.5"/>
<ellipse cx="398.95" cy="1260.34" rx="4.9" ry="2.85" fill="none" stroke="#000" stroke-width="1.5"/>
<ellipse cx="412.21" cy="1254.39" rx="4.9" ry="2.85" fill="none" stroke="#000" stroke-width="1.5"/>
<ellipse cx="422.41" cy="1237.04" rx="4.9" ry="2.85" fill="none" stroke="#000" stroke-width="1.5"/>
<ellipse cx="425.82" cy="1270.88" rx="4.9" ry="2.85" fill="none" stroke="#000" stroke-width="1.5"/>
<ellipse cx="398.95" cy="1292.65" rx="4.9" ry="2.85" fill="none" stroke="#000" stroke-width="1.5"/>
<ellipse cx="546.7" cy="1157.01" rx="4.9" ry="2.85" fill="none" stroke="#000" stroke-width="1.5"/>
<ellipse cx="465.92" cy="1222.14" rx="4.9" ry="2.85" fill="none" stroke="#000" stroke-width="1.5"/>
<ellipse cx="452.65" cy="1238.3" rx="4.9" ry="2.85" fill="none" stroke="#000" stroke-width="1.5"/>
<ellipse cx="439.05" cy="1276.39" rx="4.9" ry="2.85" fill="none" stroke="#000" stroke-width="1.5"/>
<ellipse cx="460.31" cy="1284.9" rx="4.9" ry="2.85" fill="none" stroke="#000" stroke-width="1.5"/>
<ellipse cx="506.39" cy="1303.61" rx="4.9" ry="2.85" fill="none" stroke="#000" stroke-width="2.3"/>
<ellipse cx="546.7" cy="1287.11" rx="4.9" ry="2.85" fill="none" stroke="#000" stroke-width="1.5"/>
<ellipse cx="549.25" cy="1288.3" rx="4.9" ry="2.85" fill="none" stroke="#000" stroke-width="1.5"/>
<ellipse cx="559.97" cy="1281.67" rx="4.9" ry="2.85" fill="none" stroke="#000" stroke-width="1.5"/>
<ellipse cx="587.01" cy="1270.95" rx="4.9" ry="2.85" fill="none" stroke="#000" stroke-width="1.5"/>
<ellipse cx="465.92" cy="1319.93" rx="4.9" ry="2.85" fill="none" stroke="#000" stroke-width="1.5"/>
<ellipse cx="613.5" cy="1379.5" rx="4.9" ry="2.85" fill="none" stroke="#000" stroke-width="1.5"/>
<ellipse cx="667" cy="1368.5" rx="4.9" ry="2.85" fill="none" stroke="#000" stroke-width="2.3"/>
<ellipse cx="747.5" cy="1368.5" rx="4.9" ry="2.85" fill="none" stroke="#000" stroke-width="1.5"/>
<ellipse cx="815" cy="1461" rx="4.9" ry="2.85" fill="none" stroke="#000" stroke-width="1.5"/>
<rect x="812.5" y="1137.1" width="39.2" height="11.1" fill="#fff" stroke="#1a1a1a" stroke-width="1.1"/>
<text transform="translate(813.4 1146.1) scale(1.69 1)" font-family='"Liberation Sans", Arial, sans-serif' font-weight="normal" font-size="9" stroke="#000" stroke-width="0.3">435.2</text>
<rect x="806.5" y="1226.1" width="45.2" height="11.1" fill="#fff" stroke="#1a1a1a" stroke-width="1.1"/>
<text transform="translate(807 1235.1) scale(1.73 1)" font-family='"Liberation Sans", Arial, sans-serif' font-weight="normal" font-size="9" stroke="#000" stroke-width="0.3">-384.0</text>
<rect x="798.6" y="1314.8" width="53.1" height="11.1" fill="#fff" stroke="#1a1a1a" stroke-width="1.1"/>
<text transform="translate(799.11 1323.8) scale(1.71 1)" font-family='"Liberation Sans", Arial, sans-serif' font-weight="normal" font-size="9" stroke="#000" stroke-width="0.3">-1203.0</text>
<text transform="translate(18.6 1454.19) scale(1.76 1) rotate(-90)" font-family='"Liberation Sans", Arial, sans-serif' font-weight="bold" font-size="12.36" stroke="#000" stroke-width="0.3">difference in daily fruit intake between 24hrs and FFQ</text>
<text transform="translate(203.43 1514.5) scale(1.51 1)" font-family='"Liberation Sans", Arial, sans-serif' font-weight="bold" font-size="12.6" letter-spacing="0.55" stroke="#000" stroke-width="0.35">average of daily fruit intake estimated by 24hrs and FFQ</text>
<text transform="translate(1.44 1081.8) scale(0.89 1)" font-family='"Liberation Sans", Arial, sans-serif' font-weight="bold" font-size="32.2">E</text>
<rect x="1007.6" y="1132.8" width="760.4" height="333.5" fill="#ffffff" stroke="none" stroke-width="0"/>
<rect x="1009.7" y="1134.9" width="756.2" height="329.3" fill="#f0f0f0" stroke="none" stroke-width="0"/>
<rect x="1007.6" y="1132.8" width="760.4" height="333.5" fill="none" stroke="#1a1a1a" stroke-width="1.5"/>
<line x1="998.1" y1="1149.69" x2="1007.6" y2="1149.69" stroke="#1a1a1a" stroke-width="1.5"/>
<text transform="translate(949.22 1153.39) scale(1.54 1)" font-family='"Liberation Sans", Arial, sans-serif' font-weight="normal" font-size="10" stroke="#000" stroke-width="0.3">150.00</text>
<line x1="998.1" y1="1224.83" x2="1007.6" y2="1224.83" stroke="#1a1a1a" stroke-width="1.5"/>
<text transform="translate(949.22 1228.53) scale(1.54 1)" font-family='"Liberation Sans", Arial, sans-serif' font-weight="normal" font-size="10" stroke="#000" stroke-width="0.3">100.00</text>
<line x1="998.1" y1="1299.96" x2="1007.6" y2="1299.96" stroke="#1a1a1a" stroke-width="1.5"/>
<text transform="translate(957.84 1303.66) scale(1.54 1)" font-family='"Liberation Sans", Arial, sans-serif' font-weight="normal" font-size="10" stroke="#000" stroke-width="0.3">50.00</text>
<line x1="998.1" y1="1375.1" x2="1007.6" y2="1375.1" stroke="#1a1a1a" stroke-width="1.5"/>
<text transform="translate(974.93 1378.8) scale(1.54 1)" font-family='"Liberation Sans", Arial, sans-serif' font-weight="normal" font-size="10" stroke="#000" stroke-width="0.3">.00</text>
<line x1="998.1" y1="1450.23" x2="1007.6" y2="1450.23" stroke="#1a1a1a" stroke-width="1.5"/>
<text transform="translate(952.68 1453.93) scale(1.54 1)" font-family='"Liberation Sans", Arial, sans-serif' font-weight="normal" font-size="10" stroke="#000" stroke-width="0.3">-50.00</text>
<line x1="1045" y1="1466.3" x2="1045" y2="1472.3" stroke="#1a1a1a" stroke-width="1.5"/>
<text transform="translate(1033.87 1480.2) scale(1.54 1)" font-family='"Liberation Sans", Arial, sans-serif' font-weight="normal" font-size="10" stroke="#000" stroke-width="0.3">.00</text>
<line x1="1136.32" y1="1466.3" x2="1136.32" y2="1472.3" stroke="#1a1a1a" stroke-width="1.5"/>
<text transform="translate(1116.95 1480.2) scale(1.54 1)" font-family='"Liberation Sans", Arial, sans-serif' font-weight="normal" font-size="10" stroke="#000" stroke-width="0.3">20.00</text>
<line x1="1227.64" y1="1466.3" x2="1227.64" y2="1472.3" stroke="#1a1a1a" stroke-width="1.5"/>
<text transform="translate(1208.51 1480.2) scale(1.54 1)" font-family='"Liberation Sans", Arial, sans-serif' font-weight="normal" font-size="10" stroke="#000" stroke-width="0.3">40.00</text>
<line x1="1318.96" y1="1466.3" x2="1318.96" y2="1472.3" stroke="#1a1a1a" stroke-width="1.5"/>
<text transform="translate(1299.59 1480.2) scale(1.54 1)" font-family='"Liberation Sans", Arial, sans-serif' font-weight="normal" font-size="10" stroke="#000" stroke-width="0.3">60.00</text>
<line x1="1410.28" y1="1466.3" x2="1410.28" y2="1472.3" stroke="#1a1a1a" stroke-width="1.5"/>
<text transform="translate(1390.95 1480.2) scale(1.54 1)" font-family='"Liberation Sans", Arial, sans-serif' font-weight="normal" font-size="10" stroke="#000" stroke-width="0.3">80.00</text>
<line x1="1501.6" y1="1466.3" x2="1501.6" y2="1472.3" stroke="#1a1a1a" stroke-width="1.5"/>
<text transform="translate(1477.73 1480.2) scale(1.54 1)" font-family='"Liberation Sans", Arial, sans-serif' font-weight="normal" font-size="10" stroke="#000" stroke-width="0.3">100.00</text>
<line x1="1592.92" y1="1466.3" x2="1592.92" y2="1472.3" stroke="#1a1a1a" stroke-width="1.5"/>
<text transform="translate(1569.05 1480.2) scale(1.54 1)" font-family='"Liberation Sans", Arial, sans-serif' font-weight="normal" font-size="10" stroke="#000" stroke-width="0.3">120.00</text>
<line x1="1684.24" y1="1466.3" x2="1684.24" y2="1472.3" stroke="#1a1a1a" stroke-width="1.5"/>
<text transform="translate(1660.37 1480.2) scale(1.54 1)" font-family='"Liberation Sans", Arial, sans-serif' font-weight="normal" font-size="10" stroke="#000" stroke-width="0.3">140.00</text>
<line x1="1008.4" y1="1204.5" x2="1767.2" y2="1204.5" stroke="#ffffff" stroke-width="3.4"/>
<line x1="1007.6" y1="1204.5" x2="1768" y2="1204.5" stroke="#1e1e1e" stroke-width="1.2"/>
<line x1="1008.4" y1="1299.5" x2="1767.2" y2="1299.5" stroke="#ffffff" stroke-width="3.4"/>
<line x1="1007.6" y1="1299.5" x2="1768" y2="1299.5" stroke="#1e1e1e" stroke-width="1.2"/>
<line x1="1008.4" y1="1394.5" x2="1767.2" y2="1394.5" stroke="#ffffff" stroke-width="3.7"/>
<line x1="1007.6" y1="1394.5" x2="1768" y2="1394.5" stroke="#1e1e1e" stroke-width="1.5"/>
<g fill="#fff" stroke="none">
<ellipse cx="1273.5" cy="1230" rx="6.45" ry="4"/>
<ellipse cx="1387.3" cy="1226.5" rx="6.45" ry="4"/>
<ellipse cx="1387.3" cy="1228" rx="6.45" ry="4"/>
<ellipse cx="1387.3" cy="1229.5" rx="6.45" ry="4"/>
<ellipse cx="1387.3" cy="1231" rx="6.45" ry="4"/>
<ellipse cx="1159.5" cy="1301" rx="6.45" ry="4"/>
<ellipse cx="1159.5" cy="1302.5" rx="6.45" ry="4"/>
<ellipse cx="1159.5" cy="1304" rx="6.45" ry="4"/>
<ellipse cx="1159.5" cy="1305.5" rx="6.45" ry="4"/>
<ellipse cx="1273.5" cy="1301" rx="6.45" ry="4"/>
<ellipse cx="1273.5" cy="1302.5" rx="6.45" ry="4"/>
<ellipse cx="1273.5" cy="1304" rx="6.45" ry="4"/>
<ellipse cx="1273.5" cy="1305.5" rx="6.45" ry="4"/>
<ellipse cx="1387.3" cy="1301" rx="6.45" ry="4"/>
<ellipse cx="1387.3" cy="1302.17" rx="6.45" ry="4"/>
<ellipse cx="1387.3" cy="1303.33" rx="6.45" ry="4"/>
<ellipse cx="1387.3" cy="1304.5" rx="6.45" ry="4"/>
<ellipse cx="1046" cy="1375.5" rx="6.45" ry="4"/>
<ellipse cx="1046" cy="1377.67" rx="6.45" ry="4"/>
<ellipse cx="1046" cy="1379.83" rx="6.45" ry="4"/>
<ellipse cx="1046" cy="1382" rx="6.45" ry="4"/>
<ellipse cx="1048" cy="1376" rx="6.45" ry="4"/>
<ellipse cx="1159.5" cy="1376.2" rx="6.45" ry="4"/>
<ellipse cx="1159.5" cy="1381.7" rx="6.45" ry="4"/>
<ellipse cx="1274" cy="1380.5" rx="6.45" ry="4"/>
<ellipse cx="1387.3" cy="1380.5" rx="6.45" ry="4"/>
<ellipse cx="1501.6" cy="1231.7" rx="6.45" ry="4"/>
<ellipse cx="1699.3" cy="1300.8" rx="6.45" ry="4"/>
</g>
<ellipse cx="1273.5" cy="1230" rx="5.05" ry="2.6" fill="none" stroke="#000" stroke-width="2.3"/>
<ellipse cx="1387.3" cy="1226.5" rx="5.05" ry="2.6" fill="none" stroke="#000" stroke-width="2.3"/>
<ellipse cx="1387.3" cy="1228" rx="5.05" ry="2.6" fill="none" stroke="#000" stroke-width="2.3"/>
<ellipse cx="1387.3" cy="1229.5" rx="5.05" ry="2.6" fill="none" stroke="#000" stroke-width="2.3"/>
<ellipse cx="1387.3" cy="1231" rx="5.05" ry="2.6" fill="none" stroke="#000" stroke-width="2.3"/>
<ellipse cx="1159.5" cy="1301" rx="5.05" ry="2.6" fill="none" stroke="#000" stroke-width="2.3"/>
<ellipse cx="1159.5" cy="1302.5" rx="5.05" ry="2.6" fill="none" stroke="#000" stroke-width="2.3"/>
<ellipse cx="1159.5" cy="1304" rx="5.05" ry="2.6" fill="none" stroke="#000" stroke-width="2.3"/>
<ellipse cx="1159.5" cy="1305.5" rx="5.05" ry="2.6" fill="none" stroke="#000" stroke-width="2.3"/>
<ellipse cx="1273.5" cy="1301" rx="5.05" ry="2.6" fill="none" stroke="#000" stroke-width="2.3"/>
<ellipse cx="1273.5" cy="1302.5" rx="5.05" ry="2.6" fill="none" stroke="#000" stroke-width="2.3"/>
<ellipse cx="1273.5" cy="1304" rx="5.05" ry="2.6" fill="none" stroke="#000" stroke-width="2.3"/>
<ellipse cx="1273.5" cy="1305.5" rx="5.05" ry="2.6" fill="none" stroke="#000" stroke-width="2.3"/>
<ellipse cx="1387.3" cy="1301" rx="5.05" ry="2.6" fill="none" stroke="#000" stroke-width="2.3"/>
<ellipse cx="1387.3" cy="1302.17" rx="5.05" ry="2.6" fill="none" stroke="#000" stroke-width="2.3"/>
<ellipse cx="1387.3" cy="1303.33" rx="5.05" ry="2.6" fill="none" stroke="#000" stroke-width="2.3"/>
<ellipse cx="1387.3" cy="1304.5" rx="5.05" ry="2.6" fill="none" stroke="#000" stroke-width="2.3"/>
<ellipse cx="1046" cy="1375.5" rx="5.05" ry="2.6" fill="none" stroke="#000" stroke-width="2.3"/>
<ellipse cx="1046" cy="1377.67" rx="5.05" ry="2.6" fill="none" stroke="#000" stroke-width="2.3"/>
<ellipse cx="1046" cy="1379.83" rx="5.05" ry="2.6" fill="none" stroke="#000" stroke-width="2.3"/>
<ellipse cx="1046" cy="1382" rx="5.05" ry="2.6" fill="none" stroke="#000" stroke-width="2.3"/>
<ellipse cx="1048" cy="1376" rx="5.05" ry="2.6" fill="none" stroke="#000" stroke-width="2.3"/>
<ellipse cx="1159.5" cy="1376.2" rx="5.05" ry="2.6" fill="none" stroke="#000" stroke-width="1.5"/>
<ellipse cx="1159.5" cy="1381.7" rx="5.05" ry="2.6" fill="none" stroke="#000" stroke-width="1.5"/>
<ellipse cx="1274" cy="1380.5" rx="5.05" ry="2.6" fill="none" stroke="#000" stroke-width="1.5"/>
<ellipse cx="1387.3" cy="1380.5" rx="5.05" ry="2.6" fill="none" stroke="#000" stroke-width="1.5"/>
<ellipse cx="1501.6" cy="1231.7" rx="5.05" ry="2.6" fill="none" stroke="#000" stroke-width="1.5"/>
<ellipse cx="1699.3" cy="1300.8" rx="5.05" ry="2.6" fill="none" stroke="#000" stroke-width="1.5"/>
<rect x="1728.1" y="1198.9" width="39.1" height="10.6" fill="#fff" stroke="#1a1a1a" stroke-width="1.1"/>
<text transform="translate(1728.11 1207.5) scale(1.96 1)" font-family='"Liberation Sans", Arial, sans-serif' font-weight="normal" font-size="8.14" stroke="#000" stroke-width="0.3">113.5</text>
<rect x="1736.2" y="1294.5" width="31" height="10.6" fill="#fff" stroke="#1a1a1a" stroke-width="1.1"/>
<text transform="translate(1737.09 1303.1) scale(1.87 1)" font-family='"Liberation Sans", Arial, sans-serif' font-weight="normal" font-size="8.14" stroke="#000" stroke-width="0.3">49.9</text>
<rect x="1729.6" y="1389.7" width="37.6" height="10.6" fill="#fff" stroke="#1a1a1a" stroke-width="1.1"/>
<text transform="translate(1730.08 1398.3) scale(1.97 1)" font-family='"Liberation Sans", Arial, sans-serif' font-weight="normal" font-size="8.14" stroke="#000" stroke-width="0.3">-13.5</text>
<text transform="translate(933.5 1388.66) scale(1.87 1) rotate(-90)" font-family='"Liberation Sans", Arial, sans-serif' font-weight="bold" font-size="11.4" stroke="#000" stroke-width="0.3">difference in daily intake of eggs</text>
<text transform="translate(1107.66 1498.7) scale(1.54 1)" font-family='"Liberation Sans", Arial, sans-serif' font-weight="bold" font-size="11.6" letter-spacing="0.93" stroke="#000" stroke-width="0.35">average daily intake of eggs estimated by 24hrs and FFQ</text>
<text transform="translate(909.58 1081.8) scale(0.92 1)" font-family='"Liberation Sans", Arial, sans-serif' font-weight="bold" font-size="32.2">F</text>
<rect x="604.9" y="1615.8" width="733.2" height="427.2" fill="#ffffff" stroke="none" stroke-width="0"/>
<rect x="607" y="1617.9" width="729" height="423" fill="#f0f0f0" stroke="none" stroke-width="0"/>
<rect x="604.9" y="1615.8" width="733.2" height="427.2" fill="none" stroke="#1a1a1a" stroke-width="1.5"/>
<line x1="595.4" y1="1685.1" x2="604.9" y2="1685.1" stroke="#1a1a1a" stroke-width="1.5"/>
<text transform="translate(547.56 1690.7) scale(1.23 1)" font-family='"Liberation Sans", Arial, sans-serif' font-weight="normal" font-size="12.4" stroke="#000" stroke-width="0.3">200.00</text>
<line x1="595.4" y1="1781.45" x2="604.9" y2="1781.45" stroke="#1a1a1a" stroke-width="1.5"/>
<text transform="translate(547.56 1787.05) scale(1.23 1)" font-family='"Liberation Sans", Arial, sans-serif' font-weight="normal" font-size="12.4" stroke="#000" stroke-width="0.3">100.00</text>
<line x1="595.4" y1="1877.8" x2="604.9" y2="1877.8" stroke="#1a1a1a" stroke-width="1.5"/>
<text transform="translate(573.03 1883.4) scale(1.23 1)" font-family='"Liberation Sans", Arial, sans-serif' font-weight="normal" font-size="12.4" stroke="#000" stroke-width="0.3">.00</text>
<line x1="595.4" y1="1974.15" x2="604.9" y2="1974.15" stroke="#1a1a1a" stroke-width="1.5"/>
<text transform="translate(542.53 1979.75) scale(1.23 1)" font-family='"Liberation Sans", Arial, sans-serif' font-weight="normal" font-size="12.4" stroke="#000" stroke-width="0.3">-100.00</text>
<line x1="641.3" y1="2043" x2="641.3" y2="2049" stroke="#1a1a1a" stroke-width="1.5"/>
<text transform="translate(630.28 2060.8) scale(1.23 1)" font-family='"Liberation Sans", Arial, sans-serif' font-weight="normal" font-size="12.4" stroke="#000" stroke-width="0.3">.00</text>
<line x1="806.5" y1="2043" x2="806.5" y2="2049" stroke="#1a1a1a" stroke-width="1.5"/>
<text transform="translate(782.86 2060.8) scale(1.23 1)" font-family='"Liberation Sans", Arial, sans-serif' font-weight="normal" font-size="12.4" stroke="#000" stroke-width="0.3">100.00</text>
<line x1="971.7" y1="2043" x2="971.7" y2="2049" stroke="#1a1a1a" stroke-width="1.5"/>
<text transform="translate(948.25 2060.8) scale(1.23 1)" font-family='"Liberation Sans", Arial, sans-serif' font-weight="normal" font-size="12.4" stroke="#000" stroke-width="0.3">200.00</text>
<line x1="1136.9" y1="2043" x2="1136.9" y2="2049" stroke="#1a1a1a" stroke-width="1.5"/>
<text transform="translate(1113.53 2060.8) scale(1.23 1)" font-family='"Liberation Sans", Arial, sans-serif' font-weight="normal" font-size="12.4" stroke="#000" stroke-width="0.3">300.00</text>
<line x1="1302.1" y1="2043" x2="1302.1" y2="2049" stroke="#1a1a1a" stroke-width="1.5"/>
<text transform="translate(1278.88 2060.8) scale(1.23 1)" font-family='"Liberation Sans", Arial, sans-serif' font-weight="normal" font-size="12.4" stroke="#000" stroke-width="0.3">400.00</text>
<line x1="605.7" y1="1704.5" x2="1337.3" y2="1704.5" stroke="#ffffff" stroke-width="3.4"/>
<line x1="604.9" y1="1704.5" x2="1338.1" y2="1704.5" stroke="#1e1e1e" stroke-width="1.2"/>
<line x1="605.7" y1="1821.5" x2="1337.3" y2="1821.5" stroke="#ffffff" stroke-width="3.4"/>
<line x1="604.9" y1="1821.5" x2="1338.1" y2="1821.5" stroke="#1e1e1e" stroke-width="1.2"/>
<line x1="605.7" y1="1939.5" x2="1337.3" y2="1939.5" stroke="#ffffff" stroke-width="3.4"/>
<line x1="604.9" y1="1939.5" x2="1338.1" y2="1939.5" stroke="#1e1e1e" stroke-width="1.2"/>
<g fill="#fff" stroke="none">
<ellipse cx="837.02" cy="1764.25" rx="6.5" ry="4.85"/>
<ellipse cx="727.33" cy="1778.37" rx="6.5" ry="4.85"/>
<ellipse cx="812.36" cy="1778.37" rx="6.5" ry="4.85"/>
<ellipse cx="712.53" cy="1795.71" rx="6.5" ry="4.85"/>
<ellipse cx="776.82" cy="1795.71" rx="6.5" ry="4.85"/>
<ellipse cx="770.87" cy="1802.52" rx="6.5" ry="4.85"/>
<ellipse cx="797.57" cy="1795.71" rx="6.5" ry="4.85"/>
<ellipse cx="801.82" cy="1795.71" rx="6.5" ry="4.85"/>
<ellipse cx="839.58" cy="1795.71" rx="6.5" ry="4.85"/>
<ellipse cx="727.33" cy="1827.52" rx="6.5" ry="4.85"/>
<ellipse cx="812.36" cy="1827.52" rx="6.5" ry="4.85"/>
<ellipse cx="854.54" cy="1827.52" rx="6.5" ry="4.85"/>
<ellipse cx="876.14" cy="1827.52" rx="6.5" ry="4.85"/>
<ellipse cx="884.3" cy="1827.52" rx="6.5" ry="4.85"/>
<ellipse cx="812.36" cy="1853.54" rx="6.5" ry="4.85"/>
<ellipse cx="876.65" cy="1853.2" rx="6.5" ry="4.85"/>
<ellipse cx="874.1" cy="1856.09" rx="6.5" ry="4.85"/>
<ellipse cx="846.89" cy="1870.88" rx="6.5" ry="4.85"/>
<ellipse cx="641.96" cy="1877.35" rx="6.5" ry="4.85"/>
<ellipse cx="650.46" cy="1877.35" rx="6.5" ry="4.85"/>
<ellipse cx="657.26" cy="1877.35" rx="6.5" ry="4.85"/>
<ellipse cx="707.09" cy="1877.35" rx="6.5" ry="4.85"/>
<ellipse cx="727.33" cy="1877.35" rx="6.5" ry="4.85"/>
<ellipse cx="790.77" cy="1877.35" rx="6.5" ry="4.85"/>
<ellipse cx="797.57" cy="1877.35" rx="6.5" ry="4.85"/>
<ellipse cx="842.64" cy="1877.35" rx="6.5" ry="4.85"/>
<ellipse cx="876.14" cy="1877.35" rx="6.5" ry="4.85"/>
<ellipse cx="751.14" cy="1927.52" rx="6.5" ry="4.85"/>
<ellipse cx="820.53" cy="1958.13" rx="6.5" ry="4.85"/>
<ellipse cx="981.4" cy="1679.4" rx="6.5" ry="4.85"/>
<ellipse cx="1151.9" cy="1901.6" rx="6.5" ry="4.85"/>
<ellipse cx="725.8" cy="1976.2" rx="6.5" ry="4.85"/>
<ellipse cx="734.7" cy="1976.2" rx="6.5" ry="4.85"/>
</g>
<ellipse cx="837.02" cy="1764.25" rx="5.1" ry="3.45" fill="none" stroke="#000" stroke-width="1.5"/>
<ellipse cx="727.33" cy="1778.37" rx="5.1" ry="3.45" fill="none" stroke="#000" stroke-width="2.3"/>
<ellipse cx="812.36" cy="1778.37" rx="5.1" ry="3.45" fill="none" stroke="#000" stroke-width="2.3"/>
<ellipse cx="712.53" cy="1795.71" rx="5.1" ry="3.45" fill="none" stroke="#000" stroke-width="1.5"/>
<ellipse cx="776.82" cy="1795.71" rx="5.1" ry="3.45" fill="none" stroke="#000" stroke-width="1.5"/>
<ellipse cx="770.87" cy="1802.52" rx="5.1" ry="3.45" fill="none" stroke="#000" stroke-width="1.5"/>
<ellipse cx="797.57" cy="1795.71" rx="5.1" ry="3.45" fill="none" stroke="#000" stroke-width="1.5"/>
<ellipse cx="801.82" cy="1795.71" rx="5.1" ry="3.45" fill="none" stroke="#000" stroke-width="1.5"/>
<ellipse cx="839.58" cy="1795.71" rx="5.1" ry="3.45" fill="none" stroke="#000" stroke-width="1.5"/>
<ellipse cx="727.33" cy="1827.52" rx="5.1" ry="3.45" fill="none" stroke="#000" stroke-width="1.5"/>
<ellipse cx="812.36" cy="1827.52" rx="5.1" ry="3.45" fill="none" stroke="#000" stroke-width="1.5"/>
<ellipse cx="854.54" cy="1827.52" rx="5.1" ry="3.45" fill="none" stroke="#000" stroke-width="2.3"/>
<ellipse cx="876.14" cy="1827.52" rx="5.1" ry="3.45" fill="none" stroke="#000" stroke-width="1.5"/>
<ellipse cx="884.3" cy="1827.52" rx="5.1" ry="3.45" fill="none" stroke="#000" stroke-width="1.5"/>
<ellipse cx="812.36" cy="1853.54" rx="5.1" ry="3.45" fill="none" stroke="#000" stroke-width="1.5"/>
<ellipse cx="876.65" cy="1853.2" rx="5.1" ry="3.45" fill="none" stroke="#000" stroke-width="2.3"/>
<ellipse cx="874.1" cy="1856.09" rx="5.1" ry="3.45" fill="none" stroke="#000" stroke-width="1.5"/>
<ellipse cx="846.89" cy="1870.88" rx="5.1" ry="3.45" fill="none" stroke="#000" stroke-width="1.5"/>
<ellipse cx="641.96" cy="1877.35" rx="5.1" ry="3.45" fill="none" stroke="#000" stroke-width="2.3"/>
<ellipse cx="650.46" cy="1877.35" rx="5.1" ry="3.45" fill="none" stroke="#000" stroke-width="1.5"/>
<ellipse cx="657.26" cy="1877.35" rx="5.1" ry="3.45" fill="none" stroke="#000" stroke-width="1.5"/>
<ellipse cx="707.09" cy="1877.35" rx="5.1" ry="3.45" fill="none" stroke="#000" stroke-width="2.3"/>
<ellipse cx="727.33" cy="1877.35" rx="5.1" ry="3.45" fill="none" stroke="#000" stroke-width="2.3"/>
<ellipse cx="790.77" cy="1877.35" rx="5.1" ry="3.45" fill="none" stroke="#000" stroke-width="1.5"/>
<ellipse cx="797.57" cy="1877.35" rx="5.1" ry="3.45" fill="none" stroke="#000" stroke-width="1.5"/>
<ellipse cx="842.64" cy="1877.35" rx="5.1" ry="3.45" fill="none" stroke="#000" stroke-width="1.5"/>
<ellipse cx="876.14" cy="1877.35" rx="5.1" ry="3.45" fill="none" stroke="#000" stroke-width="2.3"/>
<ellipse cx="751.14" cy="1927.52" rx="5.1" ry="3.45" fill="none" stroke="#000" stroke-width="1.5"/>
<ellipse cx="820.53" cy="1958.13" rx="5.1" ry="3.45" fill="none" stroke="#000" stroke-width="1.5"/>
<ellipse cx="981.4" cy="1679.4" rx="5.1" ry="3.45" fill="none" stroke="#000" stroke-width="2.3"/>
<ellipse cx="1151.9" cy="1901.6" rx="5.1" ry="3.45" fill="none" stroke="#000" stroke-width="1.5"/>
<ellipse cx="725.8" cy="1976.2" rx="5.1" ry="3.45" fill="none" stroke="#000" stroke-width="2.3"/>
<ellipse cx="734.7" cy="1976.2" rx="5.1" ry="3.45" fill="none" stroke="#000" stroke-width="1.5"/>
<rect x="1298.6" y="1697.3" width="38.7" height="13.1" fill="#fff" stroke="#1a1a1a" stroke-width="1.1"/>
<text transform="translate(1298.66 1707.7) scale(1.44 1)" font-family='"Liberation Sans", Arial, sans-serif' font-weight="normal" font-size="10.57" stroke="#000" stroke-width="0.3">180.5</text>
<rect x="1305.8" y="1814.8" width="31.5" height="13.1" fill="#fff" stroke="#1a1a1a" stroke-width="1.1"/>
<text transform="translate(1306.38 1825.2) scale(1.48 1)" font-family='"Liberation Sans", Arial, sans-serif' font-weight="normal" font-size="10.57" stroke="#000" stroke-width="0.3">58.0</text>
<rect x="1300.5" y="1932.8" width="36.8" height="13.1" fill="#fff" stroke="#1a1a1a" stroke-width="1.1"/>
<text transform="translate(1300.99 1943.2) scale(1.49 1)" font-family='"Liberation Sans", Arial, sans-serif' font-weight="normal" font-size="10.57" stroke="#000" stroke-width="0.3">-64.5</text>
<text transform="translate(504.7 2035.54) scale(1.51 1) rotate(-90)" font-family='"Liberation Sans", Arial, sans-serif' font-weight="bold" font-size="14.4" stroke="#000" stroke-width="0.3">Difference in daily intake of meat/poultry estimated by 24hrs</text>
<text transform="translate(526.1 1858.43) scale(1.52 1) rotate(-90)" font-family='"Liberation Sans", Arial, sans-serif' font-weight="bold" font-size="14.35" stroke="#000" stroke-width="0.3">and FFQ</text>
<text transform="translate(654.39 2084.8) scale(1.23 1)" font-family='"Liberation Sans", Arial, sans-serif' font-weight="bold" font-size="14.5" letter-spacing="1.13" stroke="#000" stroke-width="0.35">daily average intake of meat/poultry estimated by 24hrs and FFQ</text>
<text transform="translate(480.76 1584.3) scale(0.89 1)" font-family='"Liberation Sans", Arial, sans-serif' font-weight="bold" font-size="32.2">G</text>
</svg>
</body></html>
